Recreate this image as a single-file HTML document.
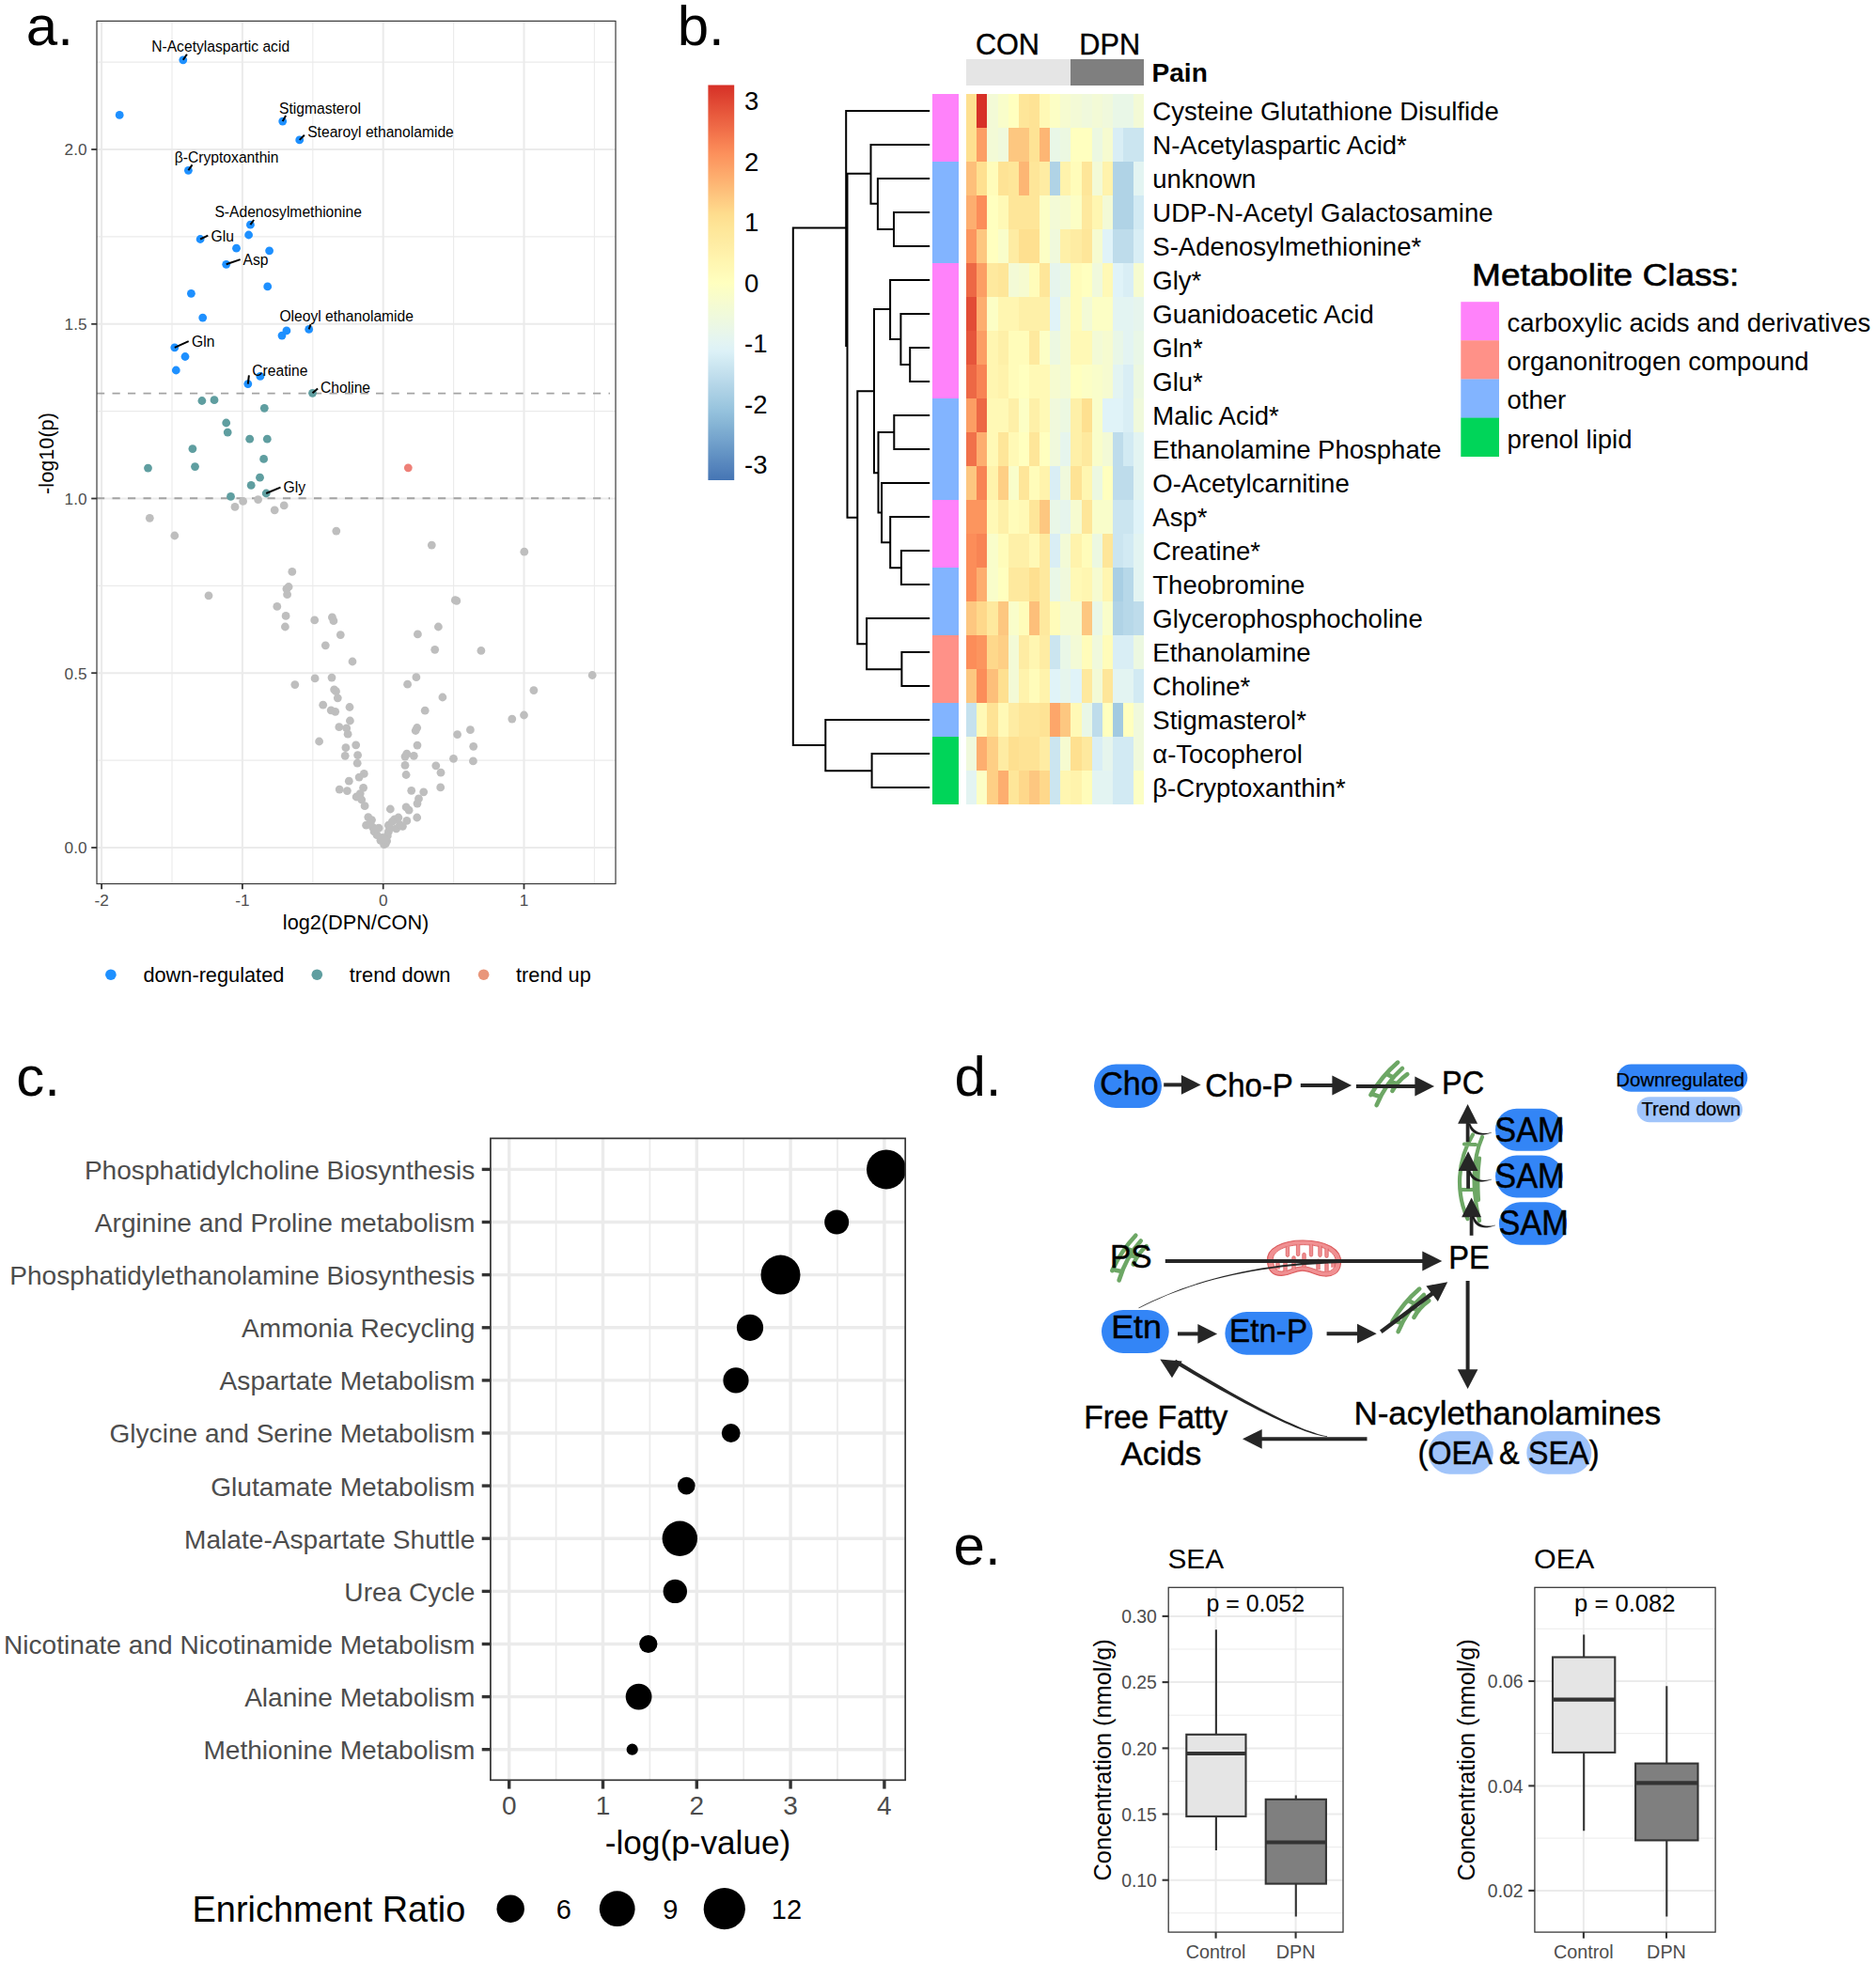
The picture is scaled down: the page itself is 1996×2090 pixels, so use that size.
<!DOCTYPE html><html><head><meta charset="utf-8"><title>Figure</title><style>html,body{margin:0;padding:0;background:#fff}svg{display:block}text{font-family:"Liberation Sans",sans-serif}</style></head><body>
<svg width="1996" height="2090" viewBox="0 0 1996 2090">
<rect width="1996" height="2090" fill="#fff"/>
<g id="pa">
<rect x="103" y="22.4" width="552" height="918.1" fill="#fff"/>
<line x1="103" x2="655" y1="809.1" y2="809.1" stroke="#ebebeb" stroke-width="1.1"/>
<line x1="103" x2="655" y1="623.4" y2="623.4" stroke="#ebebeb" stroke-width="1.1"/>
<line x1="103" x2="655" y1="437.6" y2="437.6" stroke="#ebebeb" stroke-width="1.1"/>
<line x1="103" x2="655" y1="251.9" y2="251.9" stroke="#ebebeb" stroke-width="1.1"/>
<line x1="103" x2="655" y1="66.1" y2="66.1" stroke="#ebebeb" stroke-width="1.1"/>
<line y1="22.4" y2="940.5" x1="183.0" x2="183.0" stroke="#ebebeb" stroke-width="1.1"/>
<line y1="22.4" y2="940.5" x1="332.8" x2="332.8" stroke="#ebebeb" stroke-width="1.1"/>
<line y1="22.4" y2="940.5" x1="482.6" x2="482.6" stroke="#ebebeb" stroke-width="1.1"/>
<line y1="22.4" y2="940.5" x1="632.4" x2="632.4" stroke="#ebebeb" stroke-width="1.1"/>
<line x1="103" x2="655" y1="902.0" y2="902.0" stroke="#ebebeb" stroke-width="2.1"/>
<line x1="103" x2="655" y1="716.2" y2="716.2" stroke="#ebebeb" stroke-width="2.1"/>
<line x1="103" x2="655" y1="530.5" y2="530.5" stroke="#ebebeb" stroke-width="2.1"/>
<line x1="103" x2="655" y1="344.8" y2="344.8" stroke="#ebebeb" stroke-width="2.1"/>
<line x1="103" x2="655" y1="159.0" y2="159.0" stroke="#ebebeb" stroke-width="2.1"/>
<line y1="22.4" y2="940.5" x1="108.1" x2="108.1" stroke="#ebebeb" stroke-width="2.1"/>
<line y1="22.4" y2="940.5" x1="257.9" x2="257.9" stroke="#ebebeb" stroke-width="2.1"/>
<line y1="22.4" y2="940.5" x1="407.7" x2="407.7" stroke="#ebebeb" stroke-width="2.1"/>
<line y1="22.4" y2="940.5" x1="557.5" x2="557.5" stroke="#ebebeb" stroke-width="2.1"/>
<line x1="103" x2="649" y1="418.6" y2="418.6" stroke="#a3a3a3" stroke-width="1.9" stroke-dasharray="8.2 8.3"/>
<line x1="103" x2="649" y1="530.2" y2="530.2" stroke="#a3a3a3" stroke-width="1.9" stroke-dasharray="8.2 8.3"/>
<g fill="#bebebe">
<circle cx="159.3" cy="551.3" r="4.4"/>
<circle cx="185.8" cy="570.0" r="4.4"/>
<circle cx="250.0" cy="539.4" r="4.4"/>
<circle cx="258.6" cy="533.4" r="4.4"/>
<circle cx="274.6" cy="531.6" r="4.4"/>
<circle cx="292.2" cy="542.8" r="4.4"/>
<circle cx="302.2" cy="537.9" r="4.4"/>
<circle cx="357.8" cy="565.1" r="4.4"/>
<circle cx="459.3" cy="580.1" r="4.4"/>
<circle cx="557.8" cy="587.2" r="4.4"/>
<circle cx="310.8" cy="608.4" r="4.4"/>
<circle cx="307.1" cy="624.5" r="4.4"/>
<circle cx="304.9" cy="626.7" r="4.4"/>
<circle cx="305.6" cy="632.7" r="4.4"/>
<circle cx="222.0" cy="633.8" r="4.4"/>
<circle cx="294.8" cy="645.4" r="4.4"/>
<circle cx="304.1" cy="655.4" r="4.4"/>
<circle cx="303.4" cy="667.0" r="4.4"/>
<circle cx="334.7" cy="659.9" r="4.4"/>
<circle cx="353.4" cy="656.9" r="4.4"/>
<circle cx="354.9" cy="660.7" r="4.4"/>
<circle cx="362.3" cy="675.6" r="4.4"/>
<circle cx="346.3" cy="686.8" r="4.4"/>
<circle cx="375.0" cy="704.0" r="4.4"/>
<circle cx="484.3" cy="638.7" r="4.4"/>
<circle cx="466.4" cy="667.0" r="4.4"/>
<circle cx="444.4" cy="674.9" r="4.4"/>
<circle cx="462.7" cy="691.3" r="4.4"/>
<circle cx="511.9" cy="692.4" r="4.4"/>
<circle cx="630.2" cy="718.5" r="4.4"/>
<circle cx="567.9" cy="734.6" r="4.4"/>
<circle cx="335.1" cy="721.9" r="4.4"/>
<circle cx="353.0" cy="721.1" r="4.4"/>
<circle cx="313.8" cy="728.6" r="4.4"/>
<circle cx="442.9" cy="720.7" r="4.4"/>
<circle cx="433.6" cy="728.2" r="4.4"/>
<circle cx="355.6" cy="733.8" r="4.4"/>
<circle cx="357.5" cy="735.7" r="4.4"/>
<circle cx="359.3" cy="742.8" r="4.4"/>
<circle cx="470.9" cy="742.0" r="4.4"/>
<circle cx="343.7" cy="750.2" r="4.4"/>
<circle cx="372.0" cy="752.5" r="4.4"/>
<circle cx="352.2" cy="755.8" r="4.4"/>
<circle cx="356.7" cy="757.3" r="4.4"/>
<circle cx="452.2" cy="756.2" r="4.4"/>
<circle cx="557.5" cy="761.0" r="4.4"/>
<circle cx="544.8" cy="765.1" r="4.4"/>
<circle cx="372.4" cy="767.0" r="4.4"/>
<circle cx="360.8" cy="773.7" r="4.4"/>
<circle cx="368.7" cy="774.9" r="4.4"/>
<circle cx="370.1" cy="781.2" r="4.4"/>
<circle cx="443.7" cy="774.5" r="4.4"/>
<circle cx="442.2" cy="777.5" r="4.4"/>
<circle cx="500.4" cy="776.7" r="4.4"/>
<circle cx="486.6" cy="781.6" r="4.4"/>
<circle cx="339.6" cy="789.0" r="4.4"/>
<circle cx="378.7" cy="792.8" r="4.4"/>
<circle cx="444.0" cy="793.1" r="4.4"/>
<circle cx="503.7" cy="794.3" r="4.4"/>
<circle cx="367.9" cy="795.7" r="4.4"/>
<circle cx="380.6" cy="803.6" r="4.4"/>
<circle cx="367.2" cy="804.3" r="4.4"/>
<circle cx="432.8" cy="802.1" r="4.4"/>
<circle cx="431.0" cy="805.1" r="4.4"/>
<circle cx="440.3" cy="804.3" r="4.4"/>
<circle cx="482.5" cy="807.3" r="4.4"/>
<circle cx="503.4" cy="809.9" r="4.4"/>
<circle cx="380.2" cy="812.2" r="4.4"/>
<circle cx="431.0" cy="814.4" r="4.4"/>
<circle cx="463.8" cy="814.8" r="4.4"/>
<circle cx="469.0" cy="822.2" r="4.4"/>
<circle cx="387.3" cy="823.4" r="4.4"/>
<circle cx="382.1" cy="827.1" r="4.4"/>
<circle cx="432.1" cy="824.5" r="4.4"/>
<circle cx="371.3" cy="831.2" r="4.4"/>
<circle cx="386.6" cy="838.3" r="4.4"/>
<circle cx="468.7" cy="837.9" r="4.4"/>
<circle cx="361.2" cy="840.1" r="4.4"/>
<circle cx="369.4" cy="841.6" r="4.4"/>
<circle cx="437.7" cy="841.3" r="4.4"/>
<circle cx="450.7" cy="842.8" r="4.4"/>
<circle cx="383.2" cy="844.6" r="4.4"/>
<circle cx="379.1" cy="848.0" r="4.4"/>
<circle cx="384.7" cy="851.0" r="4.4"/>
<circle cx="445.5" cy="849.9" r="4.4"/>
<circle cx="444.0" cy="855.1" r="4.4"/>
<circle cx="388.1" cy="857.7" r="4.4"/>
<circle cx="432.1" cy="858.8" r="4.4"/>
<circle cx="415.3" cy="861.0" r="4.4"/>
<circle cx="435.1" cy="862.2" r="4.4"/>
<circle cx="391.8" cy="869.6" r="4.4"/>
<circle cx="395.5" cy="872.6" r="4.4"/>
<circle cx="443.7" cy="870.0" r="4.4"/>
<circle cx="423.9" cy="870.0" r="4.4"/>
<circle cx="419.8" cy="871.9" r="4.4"/>
<circle cx="432.8" cy="873.4" r="4.4"/>
<circle cx="389.6" cy="878.2" r="4.4"/>
<circle cx="396.6" cy="880.4" r="4.4"/>
<circle cx="403.0" cy="881.2" r="4.4"/>
<circle cx="413.4" cy="878.2" r="4.4"/>
<circle cx="428.4" cy="879.3" r="4.4"/>
<circle cx="421.6" cy="881.9" r="4.4"/>
<circle cx="398.1" cy="884.9" r="4.4"/>
<circle cx="401.1" cy="888.7" r="4.4"/>
<circle cx="413.4" cy="884.9" r="4.4"/>
<circle cx="412.3" cy="889.4" r="4.4"/>
<circle cx="404.9" cy="894.3" r="4.4"/>
<circle cx="411.6" cy="895.0" r="4.4"/>
<circle cx="408.6" cy="898.7" r="4.4"/>
<circle cx="410.4" cy="897.6" r="4.4"/>
<circle cx="393.7" cy="876.3" r="4.4"/>
<circle cx="400.0" cy="882.7" r="4.4"/>
<circle cx="417.2" cy="874.5" r="4.4"/>
<circle cx="425.4" cy="877.5" r="4.4"/>
<circle cx="406.7" cy="891.3" r="4.4"/>
<circle cx="409.7" cy="893.1" r="4.4"/>
<circle cx="414.9" cy="881.2" r="4.4"/>
<circle cx="485.8" cy="639.4" r="4.4"/>
</g>
<g fill="#5f9ea0">
<circle cx="332.5" cy="418.3" r="4.4"/>
<circle cx="214.9" cy="426.5" r="4.4"/>
<circle cx="228.0" cy="425.7" r="4.4"/>
<circle cx="281.3" cy="434.3" r="4.4"/>
<circle cx="240.7" cy="450.0" r="4.4"/>
<circle cx="242.2" cy="460.1" r="4.4"/>
<circle cx="265.7" cy="467.2" r="4.4"/>
<circle cx="284.3" cy="467.2" r="4.4"/>
<circle cx="204.9" cy="477.6" r="4.4"/>
<circle cx="280.6" cy="488.4" r="4.4"/>
<circle cx="157.5" cy="498.1" r="4.4"/>
<circle cx="207.5" cy="496.6" r="4.4"/>
<circle cx="276.5" cy="508.2" r="4.4"/>
<circle cx="267.2" cy="516.4" r="4.4"/>
<circle cx="283.2" cy="525.0" r="4.4"/>
<circle cx="245.5" cy="528.4" r="4.4"/>
</g>
<circle cx="434.3" cy="497.8" r="4.4" fill="#ee8078"/>
<g fill="#1e90ff">
<circle cx="194.8" cy="63.8" r="4.4"/>
<circle cx="127.2" cy="122.4" r="4.4"/>
<circle cx="300.7" cy="129.1" r="4.4"/>
<circle cx="318.7" cy="148.9" r="4.4"/>
<circle cx="200.4" cy="181.3" r="4.4"/>
<circle cx="266.4" cy="239.2" r="4.4"/>
<circle cx="264.6" cy="250.0" r="4.4"/>
<circle cx="213.1" cy="254.5" r="4.4"/>
<circle cx="251.5" cy="264.2" r="4.4"/>
<circle cx="286.6" cy="266.8" r="4.4"/>
<circle cx="240.7" cy="281.3" r="4.4"/>
<circle cx="284.7" cy="304.9" r="4.4"/>
<circle cx="203.4" cy="312.3" r="4.4"/>
<circle cx="215.7" cy="338.1" r="4.4"/>
<circle cx="304.9" cy="351.9" r="4.4"/>
<circle cx="300.0" cy="357.1" r="4.4"/>
<circle cx="328.7" cy="350.4" r="4.4"/>
<circle cx="185.8" cy="369.8" r="4.4"/>
<circle cx="197.0" cy="379.5" r="4.4"/>
<circle cx="187.3" cy="394.0" r="4.4"/>
<circle cx="276.9" cy="400.4" r="4.4"/>
<circle cx="263.8" cy="408.6" r="4.4"/>
</g>
<g stroke="#000" stroke-width="2">
<line x1="194.8" y1="63.8" x2="198.9" y2="57.8"/>
<line x1="300.7" y1="129.1" x2="304.1" y2="123.1"/>
<line x1="318.7" y1="148.9" x2="323.9" y2="143.7"/>
<line x1="200.4" y1="181.3" x2="204.5" y2="175.4"/>
<line x1="266.4" y1="239.2" x2="270.1" y2="234.0"/>
<line x1="213.1" y1="254.5" x2="221.3" y2="250.7"/>
<line x1="240.7" y1="281.3" x2="255.6" y2="276.1"/>
<line x1="328.7" y1="350.4" x2="330.6" y2="345.1"/>
<line x1="185.8" y1="369.8" x2="200.7" y2="363.1"/>
<line x1="263.8" y1="408.6" x2="264.9" y2="399.3"/>
<line x1="332.5" y1="418.3" x2="338.1" y2="413.4"/>
<line x1="283.2" y1="525.0" x2="298.5" y2="518.7"/>
</g>
<text x="161.2" y="55.2" font-size="15.65">N-Acetylaspartic acid</text>
<text x="297.0" y="120.5" font-size="15.65">Stigmasterol</text>
<text x="327.2" y="146.2" font-size="15.65">Stearoyl ethanolamide</text>
<text x="185.8" y="172.7" font-size="15.65">β-Cryptoxanthin</text>
<text x="228.4" y="230.9" font-size="15.65">S-Adenosylmethionine</text>
<text x="224.6" y="256.7" font-size="15.65">Glu</text>
<text x="258.6" y="282.4" font-size="15.65">Asp</text>
<text x="297.4" y="341.7" font-size="15.65">Oleoyl ethanolamide</text>
<text x="204.1" y="369.0" font-size="15.65">Gln</text>
<text x="268.3" y="400.0" font-size="15.65">Creatine</text>
<text x="341.0" y="417.9" font-size="15.65">Choline</text>
<text x="301.5" y="523.8" font-size="15.65">Gly</text>
<rect x="103" y="22.4" width="552" height="918.1" fill="none" stroke="#333" stroke-width="1.15"/>
<line x1="97.2" x2="103" y1="902.0" y2="902.0" stroke="#333" stroke-width="1.8"/>
<text x="92.5" y="908.2" font-size="17.2" text-anchor="end" fill="#4d4d4d">0.0</text>
<line x1="97.2" x2="103" y1="716.2" y2="716.2" stroke="#333" stroke-width="1.8"/>
<text x="92.5" y="722.5" font-size="17.2" text-anchor="end" fill="#4d4d4d">0.5</text>
<line x1="97.2" x2="103" y1="530.5" y2="530.5" stroke="#333" stroke-width="1.8"/>
<text x="92.5" y="536.7" font-size="17.2" text-anchor="end" fill="#4d4d4d">1.0</text>
<line x1="97.2" x2="103" y1="344.8" y2="344.8" stroke="#333" stroke-width="1.8"/>
<text x="92.5" y="350.9" font-size="17.2" text-anchor="end" fill="#4d4d4d">1.5</text>
<line x1="97.2" x2="103" y1="159.0" y2="159.0" stroke="#333" stroke-width="1.8"/>
<text x="92.5" y="165.2" font-size="17.2" text-anchor="end" fill="#4d4d4d">2.0</text>
<line y1="940.5" y2="946.3" x1="108.1" x2="108.1" stroke="#333" stroke-width="1.8"/>
<text x="108.1" y="963.5" font-size="17.2" text-anchor="middle" fill="#4d4d4d">-2</text>
<line y1="940.5" y2="946.3" x1="257.9" x2="257.9" stroke="#333" stroke-width="1.8"/>
<text x="257.9" y="963.5" font-size="17.2" text-anchor="middle" fill="#4d4d4d">-1</text>
<line y1="940.5" y2="946.3" x1="407.7" x2="407.7" stroke="#333" stroke-width="1.8"/>
<text x="407.7" y="963.5" font-size="17.2" text-anchor="middle" fill="#4d4d4d">0</text>
<line y1="940.5" y2="946.3" x1="557.5" x2="557.5" stroke="#333" stroke-width="1.8"/>
<text x="557.5" y="963.5" font-size="17.2" text-anchor="middle" fill="#4d4d4d">1</text>
<text x="378.6" y="989.3" font-size="21.7" text-anchor="middle">log2(DPN/CON)</text>
<text transform="translate(57,482.5) rotate(-90)" font-size="21.7" text-anchor="middle">-log10(p)</text>
<circle cx="117.9" cy="1037.2" r="5.8" fill="#1e90ff"/>
<text x="152.4" y="1044.8" font-size="21.75">down-regulated</text>
<circle cx="337.3" cy="1037.2" r="5.8" fill="#5f9ea0"/>
<text x="371.8" y="1044.8" font-size="21.75">trend down</text>
<circle cx="514.6" cy="1037.2" r="5.8" fill="#e9967a"/>
<text x="549.0" y="1044.8" font-size="21.75">trend up</text>
</g>
<g id="pb">
<g shape-rendering="crispEdges">
<rect x="1028.20" y="100.0" width="11.42" height="36.3" fill="#fee090"/>
<rect x="1039.32" y="100.0" width="11.42" height="36.3" fill="#d73027"/>
<rect x="1050.44" y="100.0" width="11.42" height="36.3" fill="#f3fad6"/>
<rect x="1061.55" y="100.0" width="11.42" height="36.3" fill="#f9fdca"/>
<rect x="1072.67" y="100.0" width="11.42" height="36.3" fill="#ffffbf"/>
<rect x="1083.79" y="100.0" width="11.42" height="36.3" fill="#fee699"/>
<rect x="1094.91" y="100.0" width="11.42" height="36.3" fill="#fee395"/>
<rect x="1106.03" y="100.0" width="11.42" height="36.3" fill="#fff9b6"/>
<rect x="1117.14" y="100.0" width="11.42" height="36.3" fill="#fcfec5"/>
<rect x="1128.26" y="100.0" width="11.42" height="36.3" fill="#f6fbd0"/>
<rect x="1139.38" y="100.0" width="11.42" height="36.3" fill="#f3fad6"/>
<rect x="1150.50" y="100.0" width="11.42" height="36.3" fill="#f0f9dc"/>
<rect x="1161.62" y="100.0" width="11.42" height="36.3" fill="#f3fad6"/>
<rect x="1172.73" y="100.0" width="11.42" height="36.3" fill="#f0f9dc"/>
<rect x="1183.85" y="100.0" width="11.42" height="36.3" fill="#e9f7e7"/>
<rect x="1194.97" y="100.0" width="11.42" height="36.3" fill="#e9f7e7"/>
<rect x="1206.09" y="100.0" width="11.12" height="36.3" fill="#f3fad6"/>
<rect x="1028.20" y="136.0" width="11.42" height="36.3" fill="#fee090"/>
<rect x="1039.32" y="136.0" width="11.42" height="36.3" fill="#fc9e64"/>
<rect x="1050.44" y="136.0" width="11.42" height="36.3" fill="#f3fad6"/>
<rect x="1061.55" y="136.0" width="11.42" height="36.3" fill="#f0f9dc"/>
<rect x="1072.67" y="136.0" width="11.42" height="36.3" fill="#fdc780"/>
<rect x="1083.79" y="136.0" width="11.42" height="36.3" fill="#fdc780"/>
<rect x="1094.91" y="136.0" width="11.42" height="36.3" fill="#fee395"/>
<rect x="1106.03" y="136.0" width="11.42" height="36.3" fill="#fdb674"/>
<rect x="1117.14" y="136.0" width="11.42" height="36.3" fill="#e9f7e7"/>
<rect x="1128.26" y="136.0" width="11.42" height="36.3" fill="#ecf8e1"/>
<rect x="1139.38" y="136.0" width="11.42" height="36.3" fill="#ffffbf"/>
<rect x="1150.50" y="136.0" width="11.42" height="36.3" fill="#ffffbf"/>
<rect x="1161.62" y="136.0" width="11.42" height="36.3" fill="#ecf8e1"/>
<rect x="1172.73" y="136.0" width="11.42" height="36.3" fill="#f6fbd0"/>
<rect x="1183.85" y="136.0" width="11.42" height="36.3" fill="#d9eef5"/>
<rect x="1194.97" y="136.0" width="11.42" height="36.3" fill="#cbe5f0"/>
<rect x="1206.09" y="136.0" width="11.12" height="36.3" fill="#cbe5f0"/>
<rect x="1028.20" y="172.0" width="11.42" height="36.3" fill="#fdbf7a"/>
<rect x="1039.32" y="172.0" width="11.42" height="36.3" fill="#fee090"/>
<rect x="1050.44" y="172.0" width="11.42" height="36.3" fill="#fffcba"/>
<rect x="1061.55" y="172.0" width="11.42" height="36.3" fill="#fee395"/>
<rect x="1072.67" y="172.0" width="11.42" height="36.3" fill="#fee699"/>
<rect x="1083.79" y="172.0" width="11.42" height="36.3" fill="#fdb674"/>
<rect x="1094.91" y="172.0" width="11.42" height="36.3" fill="#fee699"/>
<rect x="1106.03" y="172.0" width="11.42" height="36.3" fill="#feeca3"/>
<rect x="1117.14" y="172.0" width="11.42" height="36.3" fill="#b0d3e6"/>
<rect x="1128.26" y="172.0" width="11.42" height="36.3" fill="#fff3ac"/>
<rect x="1139.38" y="172.0" width="11.42" height="36.3" fill="#fffcba"/>
<rect x="1150.50" y="172.0" width="11.42" height="36.3" fill="#fee699"/>
<rect x="1161.62" y="172.0" width="11.42" height="36.3" fill="#f3fad6"/>
<rect x="1172.73" y="172.0" width="11.42" height="36.3" fill="#fff3ac"/>
<rect x="1183.85" y="172.0" width="11.42" height="36.3" fill="#b0d3e6"/>
<rect x="1194.97" y="172.0" width="11.42" height="36.3" fill="#b0d3e6"/>
<rect x="1206.09" y="172.0" width="11.12" height="36.3" fill="#e3f4f2"/>
<rect x="1028.20" y="208.0" width="11.42" height="36.3" fill="#fdae6f"/>
<rect x="1039.32" y="208.0" width="11.42" height="36.3" fill="#fc8d59"/>
<rect x="1050.44" y="208.0" width="11.42" height="36.3" fill="#ffffbf"/>
<rect x="1061.55" y="208.0" width="11.42" height="36.3" fill="#fff9b6"/>
<rect x="1072.67" y="208.0" width="11.42" height="36.3" fill="#fee699"/>
<rect x="1083.79" y="208.0" width="11.42" height="36.3" fill="#fee699"/>
<rect x="1094.91" y="208.0" width="11.42" height="36.3" fill="#fee699"/>
<rect x="1106.03" y="208.0" width="11.42" height="36.3" fill="#fcfec5"/>
<rect x="1117.14" y="208.0" width="11.42" height="36.3" fill="#f3fad6"/>
<rect x="1128.26" y="208.0" width="11.42" height="36.3" fill="#f6fbd0"/>
<rect x="1139.38" y="208.0" width="11.42" height="36.3" fill="#fcfec5"/>
<rect x="1150.50" y="208.0" width="11.42" height="36.3" fill="#fee99e"/>
<rect x="1161.62" y="208.0" width="11.42" height="36.3" fill="#fff6b1"/>
<rect x="1172.73" y="208.0" width="11.42" height="36.3" fill="#f3fad6"/>
<rect x="1183.85" y="208.0" width="11.42" height="36.3" fill="#b0d3e6"/>
<rect x="1194.97" y="208.0" width="11.42" height="36.3" fill="#b0d3e6"/>
<rect x="1206.09" y="208.0" width="11.12" height="36.3" fill="#d2eaf3"/>
<rect x="1028.20" y="244.0" width="11.42" height="36.3" fill="#fc955e"/>
<rect x="1039.32" y="244.0" width="11.42" height="36.3" fill="#fdc780"/>
<rect x="1050.44" y="244.0" width="11.42" height="36.3" fill="#ffffbf"/>
<rect x="1061.55" y="244.0" width="11.42" height="36.3" fill="#f9fdca"/>
<rect x="1072.67" y="244.0" width="11.42" height="36.3" fill="#feeca3"/>
<rect x="1083.79" y="244.0" width="11.42" height="36.3" fill="#fee090"/>
<rect x="1094.91" y="244.0" width="11.42" height="36.3" fill="#fee090"/>
<rect x="1106.03" y="244.0" width="11.42" height="36.3" fill="#fcfec5"/>
<rect x="1117.14" y="244.0" width="11.42" height="36.3" fill="#f0f9dc"/>
<rect x="1128.26" y="244.0" width="11.42" height="36.3" fill="#fef0a8"/>
<rect x="1139.38" y="244.0" width="11.42" height="36.3" fill="#feeca3"/>
<rect x="1150.50" y="244.0" width="11.42" height="36.3" fill="#fee699"/>
<rect x="1161.62" y="244.0" width="11.42" height="36.3" fill="#f6fbd0"/>
<rect x="1172.73" y="244.0" width="11.42" height="36.3" fill="#e0f3f8"/>
<rect x="1183.85" y="244.0" width="11.42" height="36.3" fill="#bedceb"/>
<rect x="1194.97" y="244.0" width="11.42" height="36.3" fill="#bedceb"/>
<rect x="1206.09" y="244.0" width="11.12" height="36.3" fill="#d9eef5"/>
<rect x="1028.20" y="280.0" width="11.42" height="36.3" fill="#ed6845"/>
<rect x="1039.32" y="280.0" width="11.42" height="36.3" fill="#fc9e64"/>
<rect x="1050.44" y="280.0" width="11.42" height="36.3" fill="#fee99e"/>
<rect x="1061.55" y="280.0" width="11.42" height="36.3" fill="#fee699"/>
<rect x="1072.67" y="280.0" width="11.42" height="36.3" fill="#f3fad6"/>
<rect x="1083.79" y="280.0" width="11.42" height="36.3" fill="#f6fbd0"/>
<rect x="1094.91" y="280.0" width="11.42" height="36.3" fill="#fffcba"/>
<rect x="1106.03" y="280.0" width="11.42" height="36.3" fill="#fee699"/>
<rect x="1117.14" y="280.0" width="11.42" height="36.3" fill="#e6f5ed"/>
<rect x="1128.26" y="280.0" width="11.42" height="36.3" fill="#e9f7e7"/>
<rect x="1139.38" y="280.0" width="11.42" height="36.3" fill="#fffcba"/>
<rect x="1150.50" y="280.0" width="11.42" height="36.3" fill="#ffffbf"/>
<rect x="1161.62" y="280.0" width="11.42" height="36.3" fill="#f0f9dc"/>
<rect x="1172.73" y="280.0" width="11.42" height="36.3" fill="#fff9b6"/>
<rect x="1183.85" y="280.0" width="11.42" height="36.3" fill="#e0f3f8"/>
<rect x="1194.97" y="280.0" width="11.42" height="36.3" fill="#d9eef5"/>
<rect x="1206.09" y="280.0" width="11.12" height="36.3" fill="#f6fbd0"/>
<rect x="1028.20" y="316.0" width="11.42" height="36.3" fill="#e24c36"/>
<rect x="1039.32" y="316.0" width="11.42" height="36.3" fill="#fdae6f"/>
<rect x="1050.44" y="316.0" width="11.42" height="36.3" fill="#fcfec5"/>
<rect x="1061.55" y="316.0" width="11.42" height="36.3" fill="#fff6b1"/>
<rect x="1072.67" y="316.0" width="11.42" height="36.3" fill="#fff6b1"/>
<rect x="1083.79" y="316.0" width="11.42" height="36.3" fill="#fef0a8"/>
<rect x="1094.91" y="316.0" width="11.42" height="36.3" fill="#fef0a8"/>
<rect x="1106.03" y="316.0" width="11.42" height="36.3" fill="#fef0a8"/>
<rect x="1117.14" y="316.0" width="11.42" height="36.3" fill="#e0f3f8"/>
<rect x="1128.26" y="316.0" width="11.42" height="36.3" fill="#f3fad6"/>
<rect x="1139.38" y="316.0" width="11.42" height="36.3" fill="#fffcba"/>
<rect x="1150.50" y="316.0" width="11.42" height="36.3" fill="#f3fad6"/>
<rect x="1161.62" y="316.0" width="11.42" height="36.3" fill="#fcfec5"/>
<rect x="1172.73" y="316.0" width="11.42" height="36.3" fill="#fcfec5"/>
<rect x="1183.85" y="316.0" width="11.42" height="36.3" fill="#e3f4f2"/>
<rect x="1194.97" y="316.0" width="11.42" height="36.3" fill="#e3f4f2"/>
<rect x="1206.09" y="316.0" width="11.12" height="36.3" fill="#e6f5ed"/>
<rect x="1028.20" y="352.0" width="11.42" height="36.3" fill="#e6553b"/>
<rect x="1039.32" y="352.0" width="11.42" height="36.3" fill="#fc9e64"/>
<rect x="1050.44" y="352.0" width="11.42" height="36.3" fill="#fff6b1"/>
<rect x="1061.55" y="352.0" width="11.42" height="36.3" fill="#fef0a8"/>
<rect x="1072.67" y="352.0" width="11.42" height="36.3" fill="#fffcba"/>
<rect x="1083.79" y="352.0" width="11.42" height="36.3" fill="#fffcba"/>
<rect x="1094.91" y="352.0" width="11.42" height="36.3" fill="#fee99e"/>
<rect x="1106.03" y="352.0" width="11.42" height="36.3" fill="#fcfec5"/>
<rect x="1117.14" y="352.0" width="11.42" height="36.3" fill="#ecf8e1"/>
<rect x="1128.26" y="352.0" width="11.42" height="36.3" fill="#f3fad6"/>
<rect x="1139.38" y="352.0" width="11.42" height="36.3" fill="#fff9b6"/>
<rect x="1150.50" y="352.0" width="11.42" height="36.3" fill="#fff9b6"/>
<rect x="1161.62" y="352.0" width="11.42" height="36.3" fill="#f3fad6"/>
<rect x="1172.73" y="352.0" width="11.42" height="36.3" fill="#f6fbd0"/>
<rect x="1183.85" y="352.0" width="11.42" height="36.3" fill="#e9f7e7"/>
<rect x="1194.97" y="352.0" width="11.42" height="36.3" fill="#e3f4f2"/>
<rect x="1206.09" y="352.0" width="11.12" height="36.3" fill="#e9f7e7"/>
<rect x="1028.20" y="388.0" width="11.42" height="36.3" fill="#ed6845"/>
<rect x="1039.32" y="388.0" width="11.42" height="36.3" fill="#f88454"/>
<rect x="1050.44" y="388.0" width="11.42" height="36.3" fill="#fff6b1"/>
<rect x="1061.55" y="388.0" width="11.42" height="36.3" fill="#fff3ac"/>
<rect x="1072.67" y="388.0" width="11.42" height="36.3" fill="#fffcba"/>
<rect x="1083.79" y="388.0" width="11.42" height="36.3" fill="#ffffbf"/>
<rect x="1094.91" y="388.0" width="11.42" height="36.3" fill="#fff9b6"/>
<rect x="1106.03" y="388.0" width="11.42" height="36.3" fill="#fff9b6"/>
<rect x="1117.14" y="388.0" width="11.42" height="36.3" fill="#f6fbd0"/>
<rect x="1128.26" y="388.0" width="11.42" height="36.3" fill="#f3fad6"/>
<rect x="1139.38" y="388.0" width="11.42" height="36.3" fill="#ffffbf"/>
<rect x="1150.50" y="388.0" width="11.42" height="36.3" fill="#fcfec5"/>
<rect x="1161.62" y="388.0" width="11.42" height="36.3" fill="#f9fdca"/>
<rect x="1172.73" y="388.0" width="11.42" height="36.3" fill="#f6fbd0"/>
<rect x="1183.85" y="388.0" width="11.42" height="36.3" fill="#e3f4f2"/>
<rect x="1194.97" y="388.0" width="11.42" height="36.3" fill="#d9eef5"/>
<rect x="1206.09" y="388.0" width="11.12" height="36.3" fill="#ecf8e1"/>
<rect x="1028.20" y="424.0" width="11.42" height="36.3" fill="#fc9e64"/>
<rect x="1039.32" y="424.0" width="11.42" height="36.3" fill="#ed6845"/>
<rect x="1050.44" y="424.0" width="11.42" height="36.3" fill="#fff9b6"/>
<rect x="1061.55" y="424.0" width="11.42" height="36.3" fill="#fff9b6"/>
<rect x="1072.67" y="424.0" width="11.42" height="36.3" fill="#fef0a8"/>
<rect x="1083.79" y="424.0" width="11.42" height="36.3" fill="#fcfec5"/>
<rect x="1094.91" y="424.0" width="11.42" height="36.3" fill="#fef0a8"/>
<rect x="1106.03" y="424.0" width="11.42" height="36.3" fill="#fff9b6"/>
<rect x="1117.14" y="424.0" width="11.42" height="36.3" fill="#f0f9dc"/>
<rect x="1128.26" y="424.0" width="11.42" height="36.3" fill="#ecf8e1"/>
<rect x="1139.38" y="424.0" width="11.42" height="36.3" fill="#fef0a8"/>
<rect x="1150.50" y="424.0" width="11.42" height="36.3" fill="#fee090"/>
<rect x="1161.62" y="424.0" width="11.42" height="36.3" fill="#f9fdca"/>
<rect x="1172.73" y="424.0" width="11.42" height="36.3" fill="#e0f3f8"/>
<rect x="1183.85" y="424.0" width="11.42" height="36.3" fill="#e0f3f8"/>
<rect x="1194.97" y="424.0" width="11.42" height="36.3" fill="#d9eef5"/>
<rect x="1206.09" y="424.0" width="11.12" height="36.3" fill="#f0f9dc"/>
<rect x="1028.20" y="460.0" width="11.42" height="36.3" fill="#f1714a"/>
<rect x="1039.32" y="460.0" width="11.42" height="36.3" fill="#fdae6f"/>
<rect x="1050.44" y="460.0" width="11.42" height="36.3" fill="#fff9b6"/>
<rect x="1061.55" y="460.0" width="11.42" height="36.3" fill="#fee699"/>
<rect x="1072.67" y="460.0" width="11.42" height="36.3" fill="#fff9b6"/>
<rect x="1083.79" y="460.0" width="11.42" height="36.3" fill="#ffffbf"/>
<rect x="1094.91" y="460.0" width="11.42" height="36.3" fill="#fee699"/>
<rect x="1106.03" y="460.0" width="11.42" height="36.3" fill="#ffffbf"/>
<rect x="1117.14" y="460.0" width="11.42" height="36.3" fill="#f0f9dc"/>
<rect x="1128.26" y="460.0" width="11.42" height="36.3" fill="#e6f5ed"/>
<rect x="1139.38" y="460.0" width="11.42" height="36.3" fill="#fef0a8"/>
<rect x="1150.50" y="460.0" width="11.42" height="36.3" fill="#fee99e"/>
<rect x="1161.62" y="460.0" width="11.42" height="36.3" fill="#f9fdca"/>
<rect x="1172.73" y="460.0" width="11.42" height="36.3" fill="#f3fad6"/>
<rect x="1183.85" y="460.0" width="11.42" height="36.3" fill="#bedceb"/>
<rect x="1194.97" y="460.0" width="11.42" height="36.3" fill="#d2eaf3"/>
<rect x="1206.09" y="460.0" width="11.12" height="36.3" fill="#e3f4f2"/>
<rect x="1028.20" y="496.0" width="11.42" height="36.3" fill="#fdc780"/>
<rect x="1039.32" y="496.0" width="11.42" height="36.3" fill="#f88454"/>
<rect x="1050.44" y="496.0" width="11.42" height="36.3" fill="#fff3ac"/>
<rect x="1061.55" y="496.0" width="11.42" height="36.3" fill="#fecf85"/>
<rect x="1072.67" y="496.0" width="11.42" height="36.3" fill="#f9fdca"/>
<rect x="1083.79" y="496.0" width="11.42" height="36.3" fill="#fee699"/>
<rect x="1094.91" y="496.0" width="11.42" height="36.3" fill="#fffcba"/>
<rect x="1106.03" y="496.0" width="11.42" height="36.3" fill="#fff3ac"/>
<rect x="1117.14" y="496.0" width="11.42" height="36.3" fill="#d9eef5"/>
<rect x="1128.26" y="496.0" width="11.42" height="36.3" fill="#f0f9dc"/>
<rect x="1139.38" y="496.0" width="11.42" height="36.3" fill="#fee395"/>
<rect x="1150.50" y="496.0" width="11.42" height="36.3" fill="#fff6b1"/>
<rect x="1161.62" y="496.0" width="11.42" height="36.3" fill="#ecf8e1"/>
<rect x="1172.73" y="496.0" width="11.42" height="36.3" fill="#ffffbf"/>
<rect x="1183.85" y="496.0" width="11.42" height="36.3" fill="#bedceb"/>
<rect x="1194.97" y="496.0" width="11.42" height="36.3" fill="#bedceb"/>
<rect x="1206.09" y="496.0" width="11.12" height="36.3" fill="#e3f4f2"/>
<rect x="1028.20" y="532.0" width="11.42" height="36.3" fill="#fc955e"/>
<rect x="1039.32" y="532.0" width="11.42" height="36.3" fill="#fc955e"/>
<rect x="1050.44" y="532.0" width="11.42" height="36.3" fill="#fff9b6"/>
<rect x="1061.55" y="532.0" width="11.42" height="36.3" fill="#fef0a8"/>
<rect x="1072.67" y="532.0" width="11.42" height="36.3" fill="#fffcba"/>
<rect x="1083.79" y="532.0" width="11.42" height="36.3" fill="#fff9b6"/>
<rect x="1094.91" y="532.0" width="11.42" height="36.3" fill="#fee699"/>
<rect x="1106.03" y="532.0" width="11.42" height="36.3" fill="#fdc780"/>
<rect x="1117.14" y="532.0" width="11.42" height="36.3" fill="#e9f7e7"/>
<rect x="1128.26" y="532.0" width="11.42" height="36.3" fill="#e6f5ed"/>
<rect x="1139.38" y="532.0" width="11.42" height="36.3" fill="#f6fbd0"/>
<rect x="1150.50" y="532.0" width="11.42" height="36.3" fill="#fee699"/>
<rect x="1161.62" y="532.0" width="11.42" height="36.3" fill="#f9fdca"/>
<rect x="1172.73" y="532.0" width="11.42" height="36.3" fill="#f9fdca"/>
<rect x="1183.85" y="532.0" width="11.42" height="36.3" fill="#cbe5f0"/>
<rect x="1194.97" y="532.0" width="11.42" height="36.3" fill="#cbe5f0"/>
<rect x="1206.09" y="532.0" width="11.12" height="36.3" fill="#e0f3f8"/>
<rect x="1028.20" y="568.0" width="11.42" height="36.3" fill="#fc8d59"/>
<rect x="1039.32" y="568.0" width="11.42" height="36.3" fill="#f88454"/>
<rect x="1050.44" y="568.0" width="11.42" height="36.3" fill="#f9fdca"/>
<rect x="1061.55" y="568.0" width="11.42" height="36.3" fill="#fffcba"/>
<rect x="1072.67" y="568.0" width="11.42" height="36.3" fill="#fef0a8"/>
<rect x="1083.79" y="568.0" width="11.42" height="36.3" fill="#fef0a8"/>
<rect x="1094.91" y="568.0" width="11.42" height="36.3" fill="#fff9b6"/>
<rect x="1106.03" y="568.0" width="11.42" height="36.3" fill="#fee99e"/>
<rect x="1117.14" y="568.0" width="11.42" height="36.3" fill="#d9eef5"/>
<rect x="1128.26" y="568.0" width="11.42" height="36.3" fill="#f3fad6"/>
<rect x="1139.38" y="568.0" width="11.42" height="36.3" fill="#fff3ac"/>
<rect x="1150.50" y="568.0" width="11.42" height="36.3" fill="#fffcba"/>
<rect x="1161.62" y="568.0" width="11.42" height="36.3" fill="#ecf8e1"/>
<rect x="1172.73" y="568.0" width="11.42" height="36.3" fill="#fee699"/>
<rect x="1183.85" y="568.0" width="11.42" height="36.3" fill="#cbe5f0"/>
<rect x="1194.97" y="568.0" width="11.42" height="36.3" fill="#d2eaf3"/>
<rect x="1206.09" y="568.0" width="11.12" height="36.3" fill="#e3f4f2"/>
<rect x="1028.20" y="604.0" width="11.42" height="36.3" fill="#fc8d59"/>
<rect x="1039.32" y="604.0" width="11.42" height="36.3" fill="#fdae6f"/>
<rect x="1050.44" y="604.0" width="11.42" height="36.3" fill="#f9fdca"/>
<rect x="1061.55" y="604.0" width="11.42" height="36.3" fill="#ffffbf"/>
<rect x="1072.67" y="604.0" width="11.42" height="36.3" fill="#fee99e"/>
<rect x="1083.79" y="604.0" width="11.42" height="36.3" fill="#fee99e"/>
<rect x="1094.91" y="604.0" width="11.42" height="36.3" fill="#fee090"/>
<rect x="1106.03" y="604.0" width="11.42" height="36.3" fill="#fee99e"/>
<rect x="1117.14" y="604.0" width="11.42" height="36.3" fill="#e9f7e7"/>
<rect x="1128.26" y="604.0" width="11.42" height="36.3" fill="#f0f9dc"/>
<rect x="1139.38" y="604.0" width="11.42" height="36.3" fill="#fff9b6"/>
<rect x="1150.50" y="604.0" width="11.42" height="36.3" fill="#fff6b1"/>
<rect x="1161.62" y="604.0" width="11.42" height="36.3" fill="#f6fbd0"/>
<rect x="1172.73" y="604.0" width="11.42" height="36.3" fill="#fff6b1"/>
<rect x="1183.85" y="604.0" width="11.42" height="36.3" fill="#a9cfe4"/>
<rect x="1194.97" y="604.0" width="11.42" height="36.3" fill="#b7d8e9"/>
<rect x="1206.09" y="604.0" width="11.12" height="36.3" fill="#e3f4f2"/>
<rect x="1028.20" y="640.0" width="11.42" height="36.3" fill="#fdc780"/>
<rect x="1039.32" y="640.0" width="11.42" height="36.3" fill="#fed88b"/>
<rect x="1050.44" y="640.0" width="11.42" height="36.3" fill="#fee99e"/>
<rect x="1061.55" y="640.0" width="11.42" height="36.3" fill="#fdc780"/>
<rect x="1072.67" y="640.0" width="11.42" height="36.3" fill="#f9fdca"/>
<rect x="1083.79" y="640.0" width="11.42" height="36.3" fill="#fffcba"/>
<rect x="1094.91" y="640.0" width="11.42" height="36.3" fill="#fdbf7a"/>
<rect x="1106.03" y="640.0" width="11.42" height="36.3" fill="#fee99e"/>
<rect x="1117.14" y="640.0" width="11.42" height="36.3" fill="#fffcba"/>
<rect x="1128.26" y="640.0" width="11.42" height="36.3" fill="#f6fbd0"/>
<rect x="1139.38" y="640.0" width="11.42" height="36.3" fill="#f6fbd0"/>
<rect x="1150.50" y="640.0" width="11.42" height="36.3" fill="#fdc780"/>
<rect x="1161.62" y="640.0" width="11.42" height="36.3" fill="#e9f7e7"/>
<rect x="1172.73" y="640.0" width="11.42" height="36.3" fill="#f9fdca"/>
<rect x="1183.85" y="640.0" width="11.42" height="36.3" fill="#b0d3e6"/>
<rect x="1194.97" y="640.0" width="11.42" height="36.3" fill="#b7d8e9"/>
<rect x="1206.09" y="640.0" width="11.12" height="36.3" fill="#bedceb"/>
<rect x="1028.20" y="676.0" width="11.42" height="36.3" fill="#fc8d59"/>
<rect x="1039.32" y="676.0" width="11.42" height="36.3" fill="#fc955e"/>
<rect x="1050.44" y="676.0" width="11.42" height="36.3" fill="#fed88b"/>
<rect x="1061.55" y="676.0" width="11.42" height="36.3" fill="#fecf85"/>
<rect x="1072.67" y="676.0" width="11.42" height="36.3" fill="#f3fad6"/>
<rect x="1083.79" y="676.0" width="11.42" height="36.3" fill="#feeca3"/>
<rect x="1094.91" y="676.0" width="11.42" height="36.3" fill="#fff6b1"/>
<rect x="1106.03" y="676.0" width="11.42" height="36.3" fill="#feeca3"/>
<rect x="1117.14" y="676.0" width="11.42" height="36.3" fill="#cbe5f0"/>
<rect x="1128.26" y="676.0" width="11.42" height="36.3" fill="#e9f7e7"/>
<rect x="1139.38" y="676.0" width="11.42" height="36.3" fill="#f3fad6"/>
<rect x="1150.50" y="676.0" width="11.42" height="36.3" fill="#fffcba"/>
<rect x="1161.62" y="676.0" width="11.42" height="36.3" fill="#f0f9dc"/>
<rect x="1172.73" y="676.0" width="11.42" height="36.3" fill="#fffcba"/>
<rect x="1183.85" y="676.0" width="11.42" height="36.3" fill="#d9eef5"/>
<rect x="1194.97" y="676.0" width="11.42" height="36.3" fill="#d9eef5"/>
<rect x="1206.09" y="676.0" width="11.12" height="36.3" fill="#ecf8e1"/>
<rect x="1028.20" y="712.0" width="11.42" height="36.3" fill="#fdc780"/>
<rect x="1039.32" y="712.0" width="11.42" height="36.3" fill="#fc8d59"/>
<rect x="1050.44" y="712.0" width="11.42" height="36.3" fill="#fdbf7a"/>
<rect x="1061.55" y="712.0" width="11.42" height="36.3" fill="#fee090"/>
<rect x="1072.67" y="712.0" width="11.42" height="36.3" fill="#f3fad6"/>
<rect x="1083.79" y="712.0" width="11.42" height="36.3" fill="#fff3ac"/>
<rect x="1094.91" y="712.0" width="11.42" height="36.3" fill="#fffcba"/>
<rect x="1106.03" y="712.0" width="11.42" height="36.3" fill="#fff3ac"/>
<rect x="1117.14" y="712.0" width="11.42" height="36.3" fill="#e0f3f8"/>
<rect x="1128.26" y="712.0" width="11.42" height="36.3" fill="#e6f5ed"/>
<rect x="1139.38" y="712.0" width="11.42" height="36.3" fill="#e0f3f8"/>
<rect x="1150.50" y="712.0" width="11.42" height="36.3" fill="#fee99e"/>
<rect x="1161.62" y="712.0" width="11.42" height="36.3" fill="#f3fad6"/>
<rect x="1172.73" y="712.0" width="11.42" height="36.3" fill="#fee699"/>
<rect x="1183.85" y="712.0" width="11.42" height="36.3" fill="#e3f4f2"/>
<rect x="1194.97" y="712.0" width="11.42" height="36.3" fill="#e3f4f2"/>
<rect x="1206.09" y="712.0" width="11.12" height="36.3" fill="#d2eaf3"/>
<rect x="1028.20" y="748.0" width="11.42" height="36.3" fill="#c5e1ee"/>
<rect x="1039.32" y="748.0" width="11.42" height="36.3" fill="#fff9b6"/>
<rect x="1050.44" y="748.0" width="11.42" height="36.3" fill="#fee395"/>
<rect x="1061.55" y="748.0" width="11.42" height="36.3" fill="#fff9b6"/>
<rect x="1072.67" y="748.0" width="11.42" height="36.3" fill="#feeca3"/>
<rect x="1083.79" y="748.0" width="11.42" height="36.3" fill="#fee699"/>
<rect x="1094.91" y="748.0" width="11.42" height="36.3" fill="#fee699"/>
<rect x="1106.03" y="748.0" width="11.42" height="36.3" fill="#fee395"/>
<rect x="1117.14" y="748.0" width="11.42" height="36.3" fill="#fda66a"/>
<rect x="1128.26" y="748.0" width="11.42" height="36.3" fill="#fdc780"/>
<rect x="1139.38" y="748.0" width="11.42" height="36.3" fill="#fff9b6"/>
<rect x="1150.50" y="748.0" width="11.42" height="36.3" fill="#e9f7e7"/>
<rect x="1161.62" y="748.0" width="11.42" height="36.3" fill="#bedceb"/>
<rect x="1172.73" y="748.0" width="11.42" height="36.3" fill="#ffffbf"/>
<rect x="1183.85" y="748.0" width="11.42" height="36.3" fill="#a2cae1"/>
<rect x="1194.97" y="748.0" width="11.42" height="36.3" fill="#ffffbf"/>
<rect x="1206.09" y="748.0" width="11.12" height="36.3" fill="#f0f9dc"/>
<rect x="1028.20" y="784.0" width="11.42" height="36.3" fill="#f0f9dc"/>
<rect x="1039.32" y="784.0" width="11.42" height="36.3" fill="#fdae6f"/>
<rect x="1050.44" y="784.0" width="11.42" height="36.3" fill="#fecf85"/>
<rect x="1061.55" y="784.0" width="11.42" height="36.3" fill="#feeca3"/>
<rect x="1072.67" y="784.0" width="11.42" height="36.3" fill="#fee090"/>
<rect x="1083.79" y="784.0" width="11.42" height="36.3" fill="#fee395"/>
<rect x="1094.91" y="784.0" width="11.42" height="36.3" fill="#fee395"/>
<rect x="1106.03" y="784.0" width="11.42" height="36.3" fill="#feeca3"/>
<rect x="1117.14" y="784.0" width="11.42" height="36.3" fill="#cbe5f0"/>
<rect x="1128.26" y="784.0" width="11.42" height="36.3" fill="#f6fbd0"/>
<rect x="1139.38" y="784.0" width="11.42" height="36.3" fill="#fee090"/>
<rect x="1150.50" y="784.0" width="11.42" height="36.3" fill="#fee99e"/>
<rect x="1161.62" y="784.0" width="11.42" height="36.3" fill="#d9eef5"/>
<rect x="1172.73" y="784.0" width="11.42" height="36.3" fill="#e6f5ed"/>
<rect x="1183.85" y="784.0" width="11.42" height="36.3" fill="#d2eaf3"/>
<rect x="1194.97" y="784.0" width="11.42" height="36.3" fill="#d2eaf3"/>
<rect x="1206.09" y="784.0" width="11.12" height="36.3" fill="#f0f9dc"/>
<rect x="1028.20" y="820.0" width="11.42" height="36.0" fill="#e3f4f2"/>
<rect x="1039.32" y="820.0" width="11.42" height="36.0" fill="#fcfec5"/>
<rect x="1050.44" y="820.0" width="11.42" height="36.0" fill="#fecf85"/>
<rect x="1061.55" y="820.0" width="11.42" height="36.0" fill="#fdae6f"/>
<rect x="1072.67" y="820.0" width="11.42" height="36.0" fill="#fee699"/>
<rect x="1083.79" y="820.0" width="11.42" height="36.0" fill="#fed88b"/>
<rect x="1094.91" y="820.0" width="11.42" height="36.0" fill="#fdc780"/>
<rect x="1106.03" y="820.0" width="11.42" height="36.0" fill="#fed88b"/>
<rect x="1117.14" y="820.0" width="11.42" height="36.0" fill="#cbe5f0"/>
<rect x="1128.26" y="820.0" width="11.42" height="36.0" fill="#fff6b1"/>
<rect x="1139.38" y="820.0" width="11.42" height="36.0" fill="#fff3ac"/>
<rect x="1150.50" y="820.0" width="11.42" height="36.0" fill="#fffcba"/>
<rect x="1161.62" y="820.0" width="11.42" height="36.0" fill="#e3f4f2"/>
<rect x="1172.73" y="820.0" width="11.42" height="36.0" fill="#e3f4f2"/>
<rect x="1183.85" y="820.0" width="11.42" height="36.0" fill="#d2eaf3"/>
<rect x="1194.97" y="820.0" width="11.42" height="36.0" fill="#d2eaf3"/>
<rect x="1206.09" y="820.0" width="11.12" height="36.0" fill="#fcfec5"/>
<rect x="992" y="100.0" width="28" height="72.0" fill="#ff82fa"/>
<rect x="992" y="172.0" width="28" height="108.0" fill="#82b4ff"/>
<rect x="992" y="280.0" width="28" height="144.0" fill="#ff82fa"/>
<rect x="992" y="424.0" width="28" height="108.0" fill="#82b4ff"/>
<rect x="992" y="532.0" width="28" height="72.0" fill="#ff82fa"/>
<rect x="992" y="604.0" width="28" height="72.0" fill="#82b4ff"/>
<rect x="992" y="676.0" width="28" height="72.0" fill="#ff9188"/>
<rect x="992" y="748.0" width="28" height="36.0" fill="#82b4ff"/>
<rect x="992" y="784.0" width="28" height="72.0" fill="#00d559"/>
<rect x="1028.2" y="63.3" width="111.2" height="27.8" fill="#e5e5e5"/>
<rect x="1139.4" y="63.3" width="77.8" height="27.8" fill="#7f7f7f"/>
</g>
<text x="1226.3" y="127.6" font-size="27.5">Cysteine Glutathione Disulfide</text>
<text x="1226.3" y="163.6" font-size="27.5">N-Acetylaspartic Acid*</text>
<text x="1226.3" y="199.6" font-size="27.5">unknown</text>
<text x="1226.3" y="235.6" font-size="27.5">UDP-N-Acetyl Galactosamine</text>
<text x="1226.3" y="271.6" font-size="27.5">S-Adenosylmethionine*</text>
<text x="1226.3" y="307.6" font-size="27.5">Gly*</text>
<text x="1226.3" y="343.6" font-size="27.5">Guanidoacetic Acid</text>
<text x="1226.3" y="379.6" font-size="27.5">Gln*</text>
<text x="1226.3" y="415.6" font-size="27.5">Glu*</text>
<text x="1226.3" y="451.6" font-size="27.5">Malic Acid*</text>
<text x="1226.3" y="487.6" font-size="27.5">Ethanolamine Phosphate</text>
<text x="1226.3" y="523.6" font-size="27.5">O-Acetylcarnitine</text>
<text x="1226.3" y="559.6" font-size="27.5">Asp*</text>
<text x="1226.3" y="595.6" font-size="27.5">Creatine*</text>
<text x="1226.3" y="631.6" font-size="27.5">Theobromine</text>
<text x="1226.3" y="667.6" font-size="27.5">Glycerophosphocholine</text>
<text x="1226.3" y="703.6" font-size="27.5">Ethanolamine</text>
<text x="1226.3" y="739.6" font-size="27.5">Choline*</text>
<text x="1226.3" y="775.6" font-size="27.5">Stigmasterol*</text>
<text x="1226.3" y="811.6" font-size="27.5">α-Tocopherol</text>
<text x="1226.3" y="847.6" font-size="27.5">β-Cryptoxanthin*</text>
<text x="1225.5" y="87.1" font-size="28" font-weight="bold" textLength="59.3" lengthAdjust="spacingAndGlyphs">Pain</text>
<text x="1037.9" y="58.3" font-size="32.2" textLength="68.1" lengthAdjust="spacingAndGlyphs" stroke="#000" stroke-width="0.4">CON</text>
<text x="1148.3" y="58.1" font-size="32" textLength="64.8" lengthAdjust="spacingAndGlyphs" stroke="#000" stroke-width="0.4">DPN</text>
<defs><linearGradient id="cb" x1="0" y1="0" x2="0" y2="1">
<stop offset="0.000" stop-color="#d73027"/>
<stop offset="0.025" stop-color="#dc3e2e"/>
<stop offset="0.050" stop-color="#e24c36"/>
<stop offset="0.075" stop-color="#e85a3d"/>
<stop offset="0.100" stop-color="#ed6745"/>
<stop offset="0.125" stop-color="#f3754c"/>
<stop offset="0.150" stop-color="#f88354"/>
<stop offset="0.175" stop-color="#fc915c"/>
<stop offset="0.200" stop-color="#fc9d64"/>
<stop offset="0.225" stop-color="#fdaa6c"/>
<stop offset="0.250" stop-color="#fdb674"/>
<stop offset="0.275" stop-color="#fdc37d"/>
<stop offset="0.300" stop-color="#fecf85"/>
<stop offset="0.325" stop-color="#fedc8d"/>
<stop offset="0.350" stop-color="#fee395"/>
<stop offset="0.375" stop-color="#fee89c"/>
<stop offset="0.400" stop-color="#feeca3"/>
<stop offset="0.425" stop-color="#fff1aa"/>
<stop offset="0.450" stop-color="#fff6b1"/>
<stop offset="0.475" stop-color="#fffab8"/>
<stop offset="0.500" stop-color="#ffffbf"/>
<stop offset="0.525" stop-color="#fafdc7"/>
<stop offset="0.550" stop-color="#f6fbd0"/>
<stop offset="0.575" stop-color="#f1fad8"/>
<stop offset="0.600" stop-color="#edf8e1"/>
<stop offset="0.625" stop-color="#e8f6ea"/>
<stop offset="0.650" stop-color="#e3f4f2"/>
<stop offset="0.675" stop-color="#dcf1f7"/>
<stop offset="0.700" stop-color="#d0e9f2"/>
<stop offset="0.725" stop-color="#c5e1ee"/>
<stop offset="0.750" stop-color="#b9d9ea"/>
<stop offset="0.775" stop-color="#add1e5"/>
<stop offset="0.800" stop-color="#a1cae1"/>
<stop offset="0.825" stop-color="#95c2dd"/>
<stop offset="0.850" stop-color="#8ab8d7"/>
<stop offset="0.875" stop-color="#7eadd1"/>
<stop offset="0.900" stop-color="#73a2cc"/>
<stop offset="0.925" stop-color="#6797c6"/>
<stop offset="0.950" stop-color="#5c8bc0"/>
<stop offset="0.975" stop-color="#5180ba"/>
<stop offset="1.000" stop-color="#4575b4"/>
</linearGradient></defs>
<rect x="753.4" y="90.5" width="27.8" height="420.5" fill="url(#cb)"/>
<text x="792.0" y="117.1" font-size="27.5">3</text>
<text x="792.0" y="181.6" font-size="27.5">2</text>
<text x="792.0" y="246.2" font-size="27.5">1</text>
<text x="792.0" y="310.7" font-size="27.5">0</text>
<text x="792.0" y="375.2" font-size="27.5">-1</text>
<text x="792.0" y="439.8" font-size="27.5">-2</text>
<text x="792.0" y="504.3" font-size="27.5">-3</text>
<path d="M843.8 242.5V793.1M843.8 242.5H900.2M843.8 793.1H878.3M900.2 118.0V368.0M900.2 118.0H988.2M900.2 368.0H901.5M901.5 184.8V550.7M901.5 184.8H926.5M901.5 550.7H912.3M926.5 154.0V216.8M926.5 154.0H988.2M926.5 216.8H933.9M933.9 190.0V244.0M933.9 190.0H988.2M933.9 244.0H951.0M951.0 226.0V262.0M951.0 226.0H988.2M951.0 262.0H988.2M912.3 416.3V685.2M912.3 416.3H930.0M912.3 685.2H922.1M930.0 329.0V503.3M930.0 329.0H947.1M930.0 503.3H934.5M947.1 298.0V361.0M947.1 298.0H988.2M947.1 361.0H958.4M958.4 334.0V388.0M958.4 334.0H988.2M958.4 388.0H968.2M968.2 370.0V406.0M968.2 370.0H988.2M968.2 406.0H988.2M934.5 460.0V545.5M934.5 460.0H951.3M934.5 545.5H938.1M951.3 442.0V478.0M951.3 442.0H988.2M951.3 478.0H988.2M938.1 514.0V577.3M938.1 514.0H988.2M938.1 577.3H947.2M947.2 550.0V604.3M947.2 550.0H988.2M947.2 604.3H958.9M958.9 586.0V622.0M958.9 586.0H988.2M958.9 622.0H988.2M922.1 658.0V712.2M922.1 658.0H988.2M922.1 712.2H959.4M959.4 694.0V730.0M959.4 694.0H988.2M959.4 730.0H988.2M878.3 766.0V820.3M878.3 766.0H988.2M878.3 820.3H927.6M927.6 802.0V838.0M927.6 802.0H988.2M927.6 838.0H988.2" fill="none" stroke="#000" stroke-width="2" stroke-linecap="square"/>
<text x="1566.1" y="304.2" font-size="34" textLength="284.3" lengthAdjust="spacingAndGlyphs" stroke="#000" stroke-width="0.6">Metabolite Class:</text>
<rect x="1554.3" y="321.2" width="40.7" height="41.4" fill="#ff82fa"/>
<text x="1603.5" y="352.5" font-size="27.5">carboxylic acids and derivatives</text>
<rect x="1554.3" y="362.3" width="40.7" height="41.4" fill="#ff9188"/>
<text x="1603.5" y="393.9" font-size="27.5">organonitrogen compound</text>
<rect x="1554.3" y="403.5" width="40.7" height="41.4" fill="#82b4ff"/>
<text x="1603.5" y="435.4" font-size="27.5">other</text>
<rect x="1554.3" y="444.6" width="40.7" height="41.4" fill="#00d559"/>
<text x="1603.5" y="476.9" font-size="27.5">prenol lipid</text>
</g>
<g id="pc">
<clipPath id="cc"><rect x="521.9" y="1211.4" width="441.30000000000007" height="682.8999999999999"/></clipPath>
<line y1="1211.4" y2="1894.3" x1="591.6" x2="591.6" stroke="#ebebeb" stroke-width="1.7"/>
<line y1="1211.4" y2="1894.3" x1="691.4" x2="691.4" stroke="#ebebeb" stroke-width="1.7"/>
<line y1="1211.4" y2="1894.3" x1="791.2" x2="791.2" stroke="#ebebeb" stroke-width="1.7"/>
<line y1="1211.4" y2="1894.3" x1="891.0" x2="891.0" stroke="#ebebeb" stroke-width="1.7"/>
<line y1="1211.4" y2="1894.3" x1="541.7" x2="541.7" stroke="#ebebeb" stroke-width="3.4"/>
<line y1="1211.4" y2="1894.3" x1="641.5" x2="641.5" stroke="#ebebeb" stroke-width="3.4"/>
<line y1="1211.4" y2="1894.3" x1="741.3" x2="741.3" stroke="#ebebeb" stroke-width="3.4"/>
<line y1="1211.4" y2="1894.3" x1="841.1" x2="841.1" stroke="#ebebeb" stroke-width="3.4"/>
<line y1="1211.4" y2="1894.3" x1="940.9" x2="940.9" stroke="#ebebeb" stroke-width="3.4"/>
<line x1="521.9" x2="963.2" y1="1244.4" y2="1244.4" stroke="#ebebeb" stroke-width="3.4"/>
<line x1="521.9" x2="963.2" y1="1300.5" y2="1300.5" stroke="#ebebeb" stroke-width="3.4"/>
<line x1="521.9" x2="963.2" y1="1356.6" y2="1356.6" stroke="#ebebeb" stroke-width="3.4"/>
<line x1="521.9" x2="963.2" y1="1412.8" y2="1412.8" stroke="#ebebeb" stroke-width="3.4"/>
<line x1="521.9" x2="963.2" y1="1468.9" y2="1468.9" stroke="#ebebeb" stroke-width="3.4"/>
<line x1="521.9" x2="963.2" y1="1525.0" y2="1525.0" stroke="#ebebeb" stroke-width="3.4"/>
<line x1="521.9" x2="963.2" y1="1581.1" y2="1581.1" stroke="#ebebeb" stroke-width="3.4"/>
<line x1="521.9" x2="963.2" y1="1637.2" y2="1637.2" stroke="#ebebeb" stroke-width="3.4"/>
<line x1="521.9" x2="963.2" y1="1693.4" y2="1693.4" stroke="#ebebeb" stroke-width="3.4"/>
<line x1="521.9" x2="963.2" y1="1749.5" y2="1749.5" stroke="#ebebeb" stroke-width="3.4"/>
<line x1="521.9" x2="963.2" y1="1805.6" y2="1805.6" stroke="#ebebeb" stroke-width="3.4"/>
<line x1="521.9" x2="963.2" y1="1861.7" y2="1861.7" stroke="#ebebeb" stroke-width="3.4"/>
<g>
<circle cx="943" cy="1244.4" r="21" fill="#000"/>
<circle cx="890.2" cy="1300.5" r="13" fill="#000"/>
<circle cx="830.5" cy="1356.6" r="21" fill="#000"/>
<circle cx="798" cy="1412.8" r="14.1" fill="#000"/>
<circle cx="783" cy="1468.9" r="13.6" fill="#000"/>
<circle cx="777.7" cy="1525.0" r="9.9" fill="#000"/>
<circle cx="730.3" cy="1581.1" r="9.3" fill="#000"/>
<circle cx="723.3" cy="1637.2" r="18.7" fill="#000"/>
<circle cx="718.3" cy="1693.4" r="12.7" fill="#000"/>
<circle cx="689.8" cy="1749.5" r="9.6" fill="#000"/>
<circle cx="679.6" cy="1805.6" r="13.9" fill="#000"/>
<circle cx="672.7" cy="1861.7" r="6.1" fill="#000"/>
</g>
<rect x="521.9" y="1211.4" width="441.30000000000007" height="682.8999999999999" fill="none" stroke="#333" stroke-width="1.7"/>
<line x1="512.6999999999999" x2="521.9" y1="1244.4" y2="1244.4" stroke="#333" stroke-width="3.4"/>
<text x="505.3" y="1254.8" font-size="28.1" text-anchor="end" fill="#4d4d4d">Phosphatidylcholine Biosynthesis</text>
<line x1="512.6999999999999" x2="521.9" y1="1300.5" y2="1300.5" stroke="#333" stroke-width="3.4"/>
<text x="505.3" y="1310.9" font-size="28.1" text-anchor="end" fill="#4d4d4d">Arginine and Proline metabolism</text>
<line x1="512.6999999999999" x2="521.9" y1="1356.6" y2="1356.6" stroke="#333" stroke-width="3.4"/>
<text x="505.3" y="1367.0" font-size="28.1" text-anchor="end" fill="#4d4d4d">Phosphatidylethanolamine Biosynthesis</text>
<line x1="512.6999999999999" x2="521.9" y1="1412.8" y2="1412.8" stroke="#333" stroke-width="3.4"/>
<text x="505.3" y="1423.2" font-size="28.1" text-anchor="end" fill="#4d4d4d">Ammonia Recycling</text>
<line x1="512.6999999999999" x2="521.9" y1="1468.9" y2="1468.9" stroke="#333" stroke-width="3.4"/>
<text x="505.3" y="1479.3" font-size="28.1" text-anchor="end" fill="#4d4d4d">Aspartate Metabolism</text>
<line x1="512.6999999999999" x2="521.9" y1="1525.0" y2="1525.0" stroke="#333" stroke-width="3.4"/>
<text x="505.3" y="1535.4" font-size="28.1" text-anchor="end" fill="#4d4d4d">Glycine and Serine Metabolism</text>
<line x1="512.6999999999999" x2="521.9" y1="1581.1" y2="1581.1" stroke="#333" stroke-width="3.4"/>
<text x="505.3" y="1591.5" font-size="28.1" text-anchor="end" fill="#4d4d4d">Glutamate Metabolism</text>
<line x1="512.6999999999999" x2="521.9" y1="1637.2" y2="1637.2" stroke="#333" stroke-width="3.4"/>
<text x="505.3" y="1647.6" font-size="28.1" text-anchor="end" fill="#4d4d4d">Malate-Aspartate Shuttle</text>
<line x1="512.6999999999999" x2="521.9" y1="1693.4" y2="1693.4" stroke="#333" stroke-width="3.4"/>
<text x="505.3" y="1703.8" font-size="28.1" text-anchor="end" fill="#4d4d4d">Urea Cycle</text>
<line x1="512.6999999999999" x2="521.9" y1="1749.5" y2="1749.5" stroke="#333" stroke-width="3.4"/>
<text x="505.3" y="1759.9" font-size="28.1" text-anchor="end" fill="#4d4d4d">Nicotinate and Nicotinamide Metabolism</text>
<line x1="512.6999999999999" x2="521.9" y1="1805.6" y2="1805.6" stroke="#333" stroke-width="3.4"/>
<text x="505.3" y="1816.0" font-size="28.1" text-anchor="end" fill="#4d4d4d">Alanine Metabolism</text>
<line x1="512.6999999999999" x2="521.9" y1="1861.7" y2="1861.7" stroke="#333" stroke-width="3.4"/>
<text x="505.3" y="1872.1" font-size="28.1" text-anchor="end" fill="#4d4d4d">Methionine Metabolism</text>
<line y1="1894.3" y2="1903.6" x1="541.7" x2="541.7" stroke="#333" stroke-width="3.4"/>
<text x="541.7" y="1931.4" font-size="28" text-anchor="middle" fill="#4d4d4d">0</text>
<line y1="1894.3" y2="1903.6" x1="641.5" x2="641.5" stroke="#333" stroke-width="3.4"/>
<text x="641.5" y="1931.4" font-size="28" text-anchor="middle" fill="#4d4d4d">1</text>
<line y1="1894.3" y2="1903.6" x1="741.3" x2="741.3" stroke="#333" stroke-width="3.4"/>
<text x="741.3" y="1931.4" font-size="28" text-anchor="middle" fill="#4d4d4d">2</text>
<line y1="1894.3" y2="1903.6" x1="841.1" x2="841.1" stroke="#333" stroke-width="3.4"/>
<text x="841.1" y="1931.4" font-size="28" text-anchor="middle" fill="#4d4d4d">3</text>
<line y1="1894.3" y2="1903.6" x1="940.9" x2="940.9" stroke="#333" stroke-width="3.4"/>
<text x="940.9" y="1931.4" font-size="28" text-anchor="middle" fill="#4d4d4d">4</text>
<text x="742.5" y="1972.6" font-size="35.2" text-anchor="middle">-log(p-value)</text>
<text x="204.6" y="2044.6" font-size="37.9">Enrichment Ratio</text>
<circle cx="543.2" cy="2031.2" r="14.7"/>
<circle cx="656.7" cy="2031.2" r="18.9"/>
<circle cx="770.8" cy="2031.2" r="22.1"/>
<text x="599.7" y="2041.9" font-size="29" text-anchor="middle">6</text>
<text x="713.2" y="2041.9" font-size="29" text-anchor="middle">9</text>
<text x="836.9" y="2041.9" font-size="29" text-anchor="middle">12</text>
</g>
<g id="pd">
<rect x="1164.0" y="1132.6" width="72.0" height="46.4" rx="23.2" fill="#3385f6"/>
<text x="1170.3" y="1164.9" font-size="35.5" textLength="62.4" lengthAdjust="spacingAndGlyphs" stroke="#000" stroke-width="0.45">Cho</text>
<line x1="1238.2" y1="1154.4" x2="1258.9" y2="1154.4" stroke="#262626" stroke-width="4.0"/>
<polygon points="1277.6,1154.4 1256.9,1164.8 1256.9,1144.0" fill="#262626"/>
<text x="1282.3" y="1167.2" font-size="35.5" textLength="93.6" lengthAdjust="spacingAndGlyphs" stroke="#000" stroke-width="0.45">Cho-P</text>
<line x1="1383.8" y1="1155.0" x2="1419.4" y2="1155.0" stroke="#262626" stroke-width="4.0"/>
<polygon points="1438.1,1155.0 1417.4,1165.4 1417.4,1144.6" fill="#262626"/>
<g transform="translate(1478.0,1153.0) rotate(0) scale(1.0)" fill="none" stroke="#6da765" stroke-width="4.6" stroke-linecap="round">
<path d="M-19.6 12.2Q-8.1 -7.5 9.2 -22.4M-13.4 23.2Q-3.3 -0.8 14 -16.1M3.4 7.9Q9.2 -2.7 19.3 -9.9M-1.4 -9.4L4.4 -6.5M-16.7 11.7L-11 13.6M2 -1.5L8 0"/>
</g>
<line x1="1442.9" y1="1156.0" x2="1507.4" y2="1156.0" stroke="#262626" stroke-width="4.0"/>
<polygon points="1526.1,1156.0 1505.4,1166.4 1505.4,1145.6" fill="#262626"/>
<text x="1534.0" y="1164.0" font-size="35.5" textLength="45.1" lengthAdjust="spacingAndGlyphs" stroke="#000" stroke-width="0.45">PC</text>
<g fill="none" stroke="#6da765" stroke-width="4.2" stroke-linecap="round">
<path d="M1567 1207.5C1550 1235 1549 1270 1561.5 1297M1577 1210C1566 1235 1566.5 1268 1574 1299M1574 1232.5C1571.5 1250 1572 1262 1573 1277M1558 1217.5L1570 1218M1554 1266L1567 1266"/>
</g>
<path d="M1561.6 1193V1215.2" stroke="#262626" stroke-width="3.8" fill="none"/>
<polygon points="1561.6,1175 1551.1,1195.7 1572.1,1195.7" fill="#262626"/>
<path d="M1562.1 1243.2V1264.8" stroke="#262626" stroke-width="3.8" fill="none"/>
<polygon points="1562.1,1225.2 1551.6,1245.9 1572.6,1245.9" fill="#262626"/>
<path d="M1565.6 1292.5V1314.8" stroke="#262626" stroke-width="3.8" fill="none"/>
<polygon points="1565.6,1274.5 1555.1,1295.2 1576.1,1295.2" fill="#262626"/>
<path transform="translate(0,0)" d="M1562.6 1196C1565 1208 1575 1209.8 1587 1205.2C1576 1207.6 1568.3 1205 1564.4 1196Z" fill="#1a1a1a" stroke="#1a1a1a" stroke-width="0.25"/>
<path transform="translate(0,49.9)" d="M1562.6 1196C1565 1208 1575 1209.8 1587 1205.2C1576 1207.6 1568.3 1205 1564.4 1196Z" fill="#1a1a1a" stroke="#1a1a1a" stroke-width="0.25"/>
<path transform="translate(3.9,98.7)" d="M1562.6 1196C1565 1208 1575 1209.8 1587 1205.2C1576 1207.6 1568.3 1205 1564.4 1196Z" fill="#1a1a1a" stroke="#1a1a1a" stroke-width="0.25"/>
<rect x="1591.0" y="1179.7" width="71.9" height="45.0" rx="22.5" fill="#3385f6"/>
<text x="1590.3" y="1214.6" font-size="36" textLength="74.2" lengthAdjust="spacingAndGlyphs" stroke="#000" stroke-width="0.45">SAM</text>
<rect x="1591.0" y="1229.5" width="71.9" height="45.0" rx="22.5" fill="#3385f6"/>
<text x="1590.3" y="1264.3" font-size="36" textLength="74.2" lengthAdjust="spacingAndGlyphs" stroke="#000" stroke-width="0.45">SAM</text>
<rect x="1594.9" y="1279.3" width="72.3" height="45.4" rx="22.7" fill="#3385f6"/>
<text x="1594.6" y="1314.2" font-size="36" textLength="74.2" lengthAdjust="spacingAndGlyphs" stroke="#000" stroke-width="0.45">SAM</text>
<rect x="1720.7" y="1132.4" width="138.6" height="29.4" rx="14.7" fill="#3385f6"/>
<text x="1719.3" y="1155.9" font-size="20.2" textLength="136.7" lengthAdjust="spacingAndGlyphs" stroke="#000" stroke-width="0.25">Downregulated</text>
<rect x="1741.6" y="1167.2" width="112.3" height="27.0" rx="13.5" fill="#a0c4fa"/>
<text x="1746.5" y="1187.4" font-size="20.2" textLength="105.5" lengthAdjust="spacingAndGlyphs" stroke="#000" stroke-width="0.25">Trend down</text>
<g transform="translate(1201.5,1338.0) rotate(-6) scale(1.0)" fill="none" stroke="#6da765" stroke-width="4.6" stroke-linecap="round">
<path d="M-19.6 12.2Q-8.1 -7.5 9.2 -22.4M-13.4 23.2Q-3.3 -0.8 14 -16.1M3.4 7.9Q9.2 -2.7 19.3 -9.9M-1.4 -9.4L4.4 -6.5M-16.7 11.7L-11 13.6M2 -1.5L8 0"/>
</g>
<text x="1180.9" y="1348.8" font-size="35.5" textLength="44.6" lengthAdjust="spacingAndGlyphs" stroke="#000" stroke-width="0.45">PS</text>
<g transform="translate(1387.5,1339.2)">
<path d="M-39 3C-40.5 -11 -22 -19.3 -1 -19.2C23 -19 40.5 -10 39 5C38 16 30 19.2 22 18.8C12 18.3 7 13 -2 13C-11 13 -15 18.4 -24.5 18.2C-33.5 18 -38.3 12 -39 3Z" fill="#f09092" stroke="#dc5c5e" stroke-width="1.2"/>
<path d="M-33 2.5C-34.5 -8 -20 -14.6 -1 -14.6C20 -14.6 34.6 -7 33.6 4C32.8 11.6 28 14.6 22 14.2C13 13.7 8 8.6 -2 8.6C-11 8.6 -15 13.8 -24 13.8C-30 13.8 -32.5 9 -33 2.5Z" fill="#fff" stroke="#dc5c5e" stroke-width="0.9"/>
<path d="M-19.3 -12.5V-3.5a1.7 1.7 0 0 0 3.4 0V-12.5M-8.1 -14.8V-4.300000000000001a1.7 1.7 0 0 0 3.4 0V-14.8M5.8 -14.8V-3.8000000000000007a1.7 1.7 0 0 0 3.4 0V-14.8M15.3 -13.4V-3.4000000000000004a1.7 1.7 0 0 0 3.4 0V-13.4M22.3 -10.5V-2.5a1.7 1.7 0 0 0 3.4 0V-10.5M-29.7 11.5V5.5a1.7 1.7 0 0 1 3.4 0V11.5M-21.7 13.6V3.5999999999999996a1.7 1.7 0 0 1 3.4 0V13.6M-12.7 11.2V-0.8000000000000007a1.7 1.7 0 0 1 3.4 0V11.2M-1.7 8.8V-4.199999999999999a1.7 1.7 0 0 1 3.4 0V8.8M13.3 12V2.5a1.7 1.7 0 0 1 3.4 0V12M22.3 14V6a1.7 1.7 0 0 1 3.4 0V14M29.3 9.5V3.5a1.7 1.7 0 0 1 3.4 0V9.5" fill="#f09092" stroke="#dc5c5e" stroke-width="0.8"/>
</g>
<polygon points="1211.7,1392.3 1218.8,1388.7 1226.1,1385.3 1233.6,1381.9 1241.3,1378.6 1249.2,1375.5 1257.4,1372.4 1265.7,1369.5 1274.3,1366.7 1283.2,1364.1 1292.3,1361.6 1301.7,1359.2 1311.5,1357.0 1321.5,1354.9 1331.8,1353.0 1342.5,1351.3 1353.4,1349.7 1364.8,1348.3 1376.5,1347.1 1388.6,1346.1 1401.0,1345.2 1413.9,1344.6 1427.2,1344.1 1440.9,1343.8 1455.0,1343.8 1455.0,1340.2 1440.8,1340.5 1427.1,1341.0 1413.8,1341.7 1400.9,1342.6 1388.4,1343.6 1376.3,1344.9 1364.5,1346.3 1353.2,1347.9 1342.2,1349.6 1331.5,1351.5 1321.2,1353.5 1311.2,1355.7 1301.5,1358.0 1292.0,1360.5 1282.9,1363.1 1274.0,1365.8 1265.4,1368.7 1257.1,1371.6 1248.9,1374.7 1241.0,1377.9 1233.3,1381.2 1225.8,1384.6 1218.5,1388.1 1211.3,1391.7" fill="#262626"/>
<line x1="1239.8" y1="1341.9" x2="1515.3" y2="1341.9" stroke="#262626" stroke-width="4.0"/>
<polygon points="1534.3,1341.9 1513.3,1352.4 1513.3,1331.4" fill="#262626"/>
<text x="1541.3" y="1349.7" font-size="35.5" textLength="43.5" lengthAdjust="spacingAndGlyphs" stroke="#000" stroke-width="0.45">PE</text>
<rect x="1172.0" y="1394.0" width="71.7" height="46.0" rx="23.0" fill="#3385f6"/>
<text x="1182.2" y="1424.3" font-size="35.5" textLength="53.8" lengthAdjust="spacingAndGlyphs" stroke="#000" stroke-width="0.45">Etn</text>
<line x1="1253.0" y1="1419.4" x2="1276.4" y2="1419.4" stroke="#262626" stroke-width="4.0"/>
<polygon points="1295.1,1419.4 1274.4,1429.8 1274.4,1409.0" fill="#262626"/>
<rect x="1303.4" y="1395.9" width="93.2" height="45.9" rx="22.9" fill="#3385f6"/>
<text x="1308.1" y="1428.0" font-size="35.5" textLength="82.9" lengthAdjust="spacingAndGlyphs" stroke="#000" stroke-width="0.45">Etn-P</text>
<line x1="1411.6" y1="1419.2" x2="1446.0" y2="1419.2" stroke="#262626" stroke-width="4.0"/>
<polygon points="1464.7,1419.2 1444.0,1429.6 1444.0,1408.8" fill="#262626"/>
<g transform="translate(1501.0,1394.0) rotate(0) scale(1.0)" fill="none" stroke="#6da765" stroke-width="4.6" stroke-linecap="round">
<path d="M-19.6 12.2Q-8.1 -7.5 9.2 -22.4M-13.4 23.2Q-3.3 -0.8 14 -16.1M3.4 7.9Q9.2 -2.7 19.3 -9.9M-1.4 -9.4L4.4 -6.5M-16.7 11.7L-11 13.6M2 -1.5L8 0"/>
</g>
<line x1="1469.3" y1="1417.3" x2="1525.2" y2="1375.5" stroke="#262626" stroke-width="4.4"/>
<polygon points="1540.2,1364.3 1529.8,1385.0 1517.4,1368.4" fill="#262626"/>
<line x1="1561.6" y1="1363.0" x2="1561.6" y2="1459.3" stroke="#262626" stroke-width="4.0"/>
<polygon points="1561.6,1478.0 1550.8,1457.3 1572.4,1457.3" fill="#262626"/>
<text x="1440.4" y="1516.4" font-size="35.5" textLength="326.8" lengthAdjust="spacingAndGlyphs" stroke="#000" stroke-width="0.45">N-acylethanolamines</text>
<rect x="1519.8" y="1523.1" width="69.0" height="45.6" rx="22.8" fill="#a0c4fa"/>
<rect x="1624.3" y="1523.1" width="69.0" height="45.6" rx="22.8" fill="#a0c4fa"/>
<text x="1508.4" y="1557.5" font-size="35.5" textLength="193.2" lengthAdjust="spacingAndGlyphs" stroke="#000" stroke-width="0.45">(OEA &amp; SEA)</text>
<text x="1153.2" y="1520.1" font-size="35.5" textLength="153.1" lengthAdjust="spacingAndGlyphs" stroke="#000" stroke-width="0.45">Free Fatty</text>
<text x="1192.4" y="1558.6" font-size="35.5" textLength="86.0" lengthAdjust="spacingAndGlyphs" stroke="#000" stroke-width="0.45">Acids</text>
<line x1="1454.5" y1="1531.3" x2="1340.7" y2="1531.3" stroke="#262626" stroke-width="4.0"/>
<polygon points="1322.0,1531.3 1342.7,1520.9 1342.7,1541.7" fill="#262626"/>
<polygon points="1412.0,1528.3 1409.0,1527.7 1405.7,1526.9 1402.0,1525.9 1398.1,1524.6 1393.8,1523.1 1389.2,1521.4 1384.3,1519.4 1379.0,1517.1 1373.4,1514.6 1367.5,1511.9 1361.3,1508.9 1354.8,1505.7 1347.9,1502.2 1340.7,1498.4 1333.2,1494.4 1325.4,1490.2 1317.2,1485.7 1308.7,1480.9 1299.9,1475.8 1290.8,1470.5 1281.4,1465.0 1271.6,1459.2 1261.5,1453.1 1251.1,1446.7 1248.9,1450.3 1259.4,1456.5 1269.6,1462.5 1279.5,1468.3 1289.0,1473.7 1298.2,1478.9 1307.1,1483.8 1315.7,1488.5 1323.9,1492.9 1331.8,1497.0 1339.4,1500.9 1346.7,1504.6 1353.7,1507.9 1360.3,1511.1 1366.6,1513.9 1372.6,1516.6 1378.2,1518.9 1383.6,1521.0 1388.6,1522.9 1393.3,1524.5 1397.7,1525.9 1401.7,1527.0 1405.5,1527.9 1408.9,1528.5 1412.0,1528.9" fill="#262626"/>
<polygon points="1234.3,1446.6 1257.7,1448.4 1247.0,1466.3" fill="#262626"/>
</g>
<g id="pe">
<rect x="1243.2" y="1689.3" width="185.79999999999995" height="366.79999999999995" fill="#fff"/>
<line x1="1243.2" x2="1429" y1="1755.0" y2="1755.0" stroke="#ebebeb" stroke-width="1.0"/>
<line x1="1243.2" x2="1429" y1="1825.2" y2="1825.2" stroke="#ebebeb" stroke-width="1.0"/>
<line x1="1243.2" x2="1429" y1="1895.5" y2="1895.5" stroke="#ebebeb" stroke-width="1.0"/>
<line x1="1243.2" x2="1429" y1="1965.6" y2="1965.6" stroke="#ebebeb" stroke-width="1.0"/>
<line x1="1243.2" x2="1429" y1="2035.8" y2="2035.8" stroke="#ebebeb" stroke-width="1.0"/>
<line x1="1243.2" x2="1429" y1="1719.9" y2="1719.9" stroke="#ebebeb" stroke-width="2.0"/>
<line x1="1243.2" x2="1429" y1="1790.1" y2="1790.1" stroke="#ebebeb" stroke-width="2.0"/>
<line x1="1243.2" x2="1429" y1="1860.4" y2="1860.4" stroke="#ebebeb" stroke-width="2.0"/>
<line x1="1243.2" x2="1429" y1="1930.5" y2="1930.5" stroke="#ebebeb" stroke-width="2.0"/>
<line x1="1243.2" x2="1429" y1="2000.7" y2="2000.7" stroke="#ebebeb" stroke-width="2.0"/>
<line y1="1689.3" y2="2056.1" x1="1293.6" x2="1293.6" stroke="#ebebeb" stroke-width="2.0"/>
<line y1="1689.3" y2="2056.1" x1="1378.6" x2="1378.6" stroke="#ebebeb" stroke-width="2.0"/>
<path d="M1293.9 1734.3V1845.8M1293.9 1932.9V1969.0" stroke="#333" stroke-width="2.1"/>
<rect x="1262.3" y="1845.8" width="63.2" height="87.1" fill="#e5e5e5" stroke="#333" stroke-width="2.1"/>
<line x1="1262.3" x2="1325.5" y1="1866.0" y2="1866.0" stroke="#333" stroke-width="4.2"/>
<path d="M1378.8 1910.6V1914.8M1378.8 2004.6V2039.6" stroke="#333" stroke-width="2.1"/>
<rect x="1346.7" y="1914.8" width="64.2" height="89.8" fill="#7f7f7f" stroke="#333" stroke-width="2.1"/>
<line x1="1346.7" x2="1410.9" y1="1960.5" y2="1960.5" stroke="#333" stroke-width="4.2"/>
<rect x="1243.2" y="1689.3" width="185.79999999999995" height="366.79999999999995" fill="none" stroke="#333" stroke-width="1.25"/>
<line x1="1236.6000000000001" x2="1243.2" y1="1719.9" y2="1719.9" stroke="#333" stroke-width="2.1"/>
<text x="1230.9" y="1727.0" font-size="19.4" text-anchor="end" fill="#4d4d4d">0.30</text>
<line x1="1236.6000000000001" x2="1243.2" y1="1790.1" y2="1790.1" stroke="#333" stroke-width="2.1"/>
<text x="1230.9" y="1797.2" font-size="19.4" text-anchor="end" fill="#4d4d4d">0.25</text>
<line x1="1236.6000000000001" x2="1243.2" y1="1860.4" y2="1860.4" stroke="#333" stroke-width="2.1"/>
<text x="1230.9" y="1867.5" font-size="19.4" text-anchor="end" fill="#4d4d4d">0.20</text>
<line x1="1236.6000000000001" x2="1243.2" y1="1930.5" y2="1930.5" stroke="#333" stroke-width="2.1"/>
<text x="1230.9" y="1937.6" font-size="19.4" text-anchor="end" fill="#4d4d4d">0.15</text>
<line x1="1236.6000000000001" x2="1243.2" y1="2000.7" y2="2000.7" stroke="#333" stroke-width="2.1"/>
<text x="1230.9" y="2007.8" font-size="19.4" text-anchor="end" fill="#4d4d4d">0.10</text>
<line y1="2056.1" y2="2062.7" x1="1293.6" x2="1293.6" stroke="#333" stroke-width="2.1"/>
<text x="1293.6" y="2084.0" font-size="19.8" text-anchor="middle" fill="#4d4d4d">Control</text>
<line y1="2056.1" y2="2062.7" x1="1378.6" x2="1378.6" stroke="#333" stroke-width="2.1"/>
<text x="1378.6" y="2084.0" font-size="19.8" text-anchor="middle" fill="#4d4d4d">DPN</text>
<text x="1242.4" y="1669.0" font-size="29.8">SEA</text>
<text x="1335.8" y="1715.2" font-size="24.9" text-anchor="middle">p = 0.052</text>
<text transform="translate(1181.5,1872.8) rotate(-90)" font-size="25.3" text-anchor="middle">Concentration (nmol/g)</text>
<rect x="1632.9" y="1689.3" width="192.19999999999982" height="366.79999999999995" fill="#fff"/>
<line x1="1632.9" x2="1825.1" y1="1733.3" y2="1733.3" stroke="#ebebeb" stroke-width="1.0"/>
<line x1="1632.9" x2="1825.1" y1="1844.7" y2="1844.7" stroke="#ebebeb" stroke-width="1.0"/>
<line x1="1632.9" x2="1825.1" y1="1956.1" y2="1956.1" stroke="#ebebeb" stroke-width="1.0"/>
<line x1="1632.9" x2="1825.1" y1="1789.0" y2="1789.0" stroke="#ebebeb" stroke-width="2.0"/>
<line x1="1632.9" x2="1825.1" y1="1900.4" y2="1900.4" stroke="#ebebeb" stroke-width="2.0"/>
<line x1="1632.9" x2="1825.1" y1="2011.9" y2="2011.9" stroke="#ebebeb" stroke-width="2.0"/>
<line y1="1689.3" y2="2056.1" x1="1684.9" x2="1684.9" stroke="#ebebeb" stroke-width="2.0"/>
<line y1="1689.3" y2="2056.1" x1="1773.0" x2="1773.0" stroke="#ebebeb" stroke-width="2.0"/>
<path d="M1685.2 1739.6V1763.5M1685.2 1864.9V1948.3" stroke="#333" stroke-width="2.1"/>
<rect x="1652.0" y="1763.5" width="66.3" height="101.4" fill="#e5e5e5" stroke="#333" stroke-width="2.1"/>
<line x1="1652.0" x2="1718.3" y1="1808.7" y2="1808.7" stroke="#333" stroke-width="4.2"/>
<path d="M1773.3 1794.3V1876.6M1773.3 1958.4V2039.6" stroke="#333" stroke-width="2.1"/>
<rect x="1740.1" y="1876.6" width="66.4" height="81.8" fill="#7f7f7f" stroke="#333" stroke-width="2.1"/>
<line x1="1740.1" x2="1806.5" y1="1897.3" y2="1897.3" stroke="#333" stroke-width="4.2"/>
<rect x="1632.9" y="1689.3" width="192.19999999999982" height="366.79999999999995" fill="none" stroke="#333" stroke-width="1.25"/>
<line x1="1626.3000000000002" x2="1632.9" y1="1789.0" y2="1789.0" stroke="#333" stroke-width="2.1"/>
<text x="1620.6" y="1796.1" font-size="19.4" text-anchor="end" fill="#4d4d4d">0.06</text>
<line x1="1626.3000000000002" x2="1632.9" y1="1900.4" y2="1900.4" stroke="#333" stroke-width="2.1"/>
<text x="1620.6" y="1907.5" font-size="19.4" text-anchor="end" fill="#4d4d4d">0.04</text>
<line x1="1626.3000000000002" x2="1632.9" y1="2011.9" y2="2011.9" stroke="#333" stroke-width="2.1"/>
<text x="1620.6" y="2019.0" font-size="19.4" text-anchor="end" fill="#4d4d4d">0.02</text>
<line y1="2056.1" y2="2062.7" x1="1684.9" x2="1684.9" stroke="#333" stroke-width="2.1"/>
<text x="1684.9" y="2084.0" font-size="19.8" text-anchor="middle" fill="#4d4d4d">Control</text>
<line y1="2056.1" y2="2062.7" x1="1773.0" x2="1773.0" stroke="#333" stroke-width="2.1"/>
<text x="1773.0" y="2084.0" font-size="19.8" text-anchor="middle" fill="#4d4d4d">DPN</text>
<text x="1632.1" y="1669.0" font-size="30.4">OEA</text>
<text x="1728.8" y="1715.2" font-size="25.6" text-anchor="middle">p = 0.082</text>
<text transform="translate(1568.5,1872.8) rotate(-90)" font-size="25.3" text-anchor="middle">Concentration (nmol/g)</text>
</g>
<text x="27.8" y="48.4" font-size="60">a.</text>
<text x="720.7" y="48.3" font-size="60">b.</text>
<text x="17.3" y="1166.4" font-size="60">c.</text>
<text x="1015.5" y="1165.6" font-size="60">d.</text>
<text x="1014.6" y="1664.8" font-size="60">e.</text>
</svg></body></html>
